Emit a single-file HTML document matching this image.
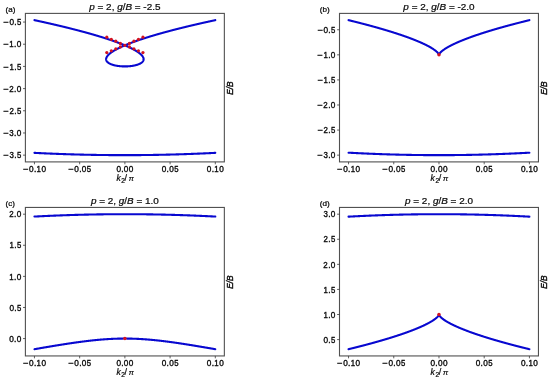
<!DOCTYPE html><html><head><meta charset="utf-8"><style>html,body{margin:0;padding:0;background:#fff;}svg{display:block;will-change:transform;}text{font-family:"Liberation Sans",sans-serif;fill:#0a0a0a;stroke:#0a0a0a;stroke-width:0.36px;}</style></head><body>
<svg width="550" height="379" viewBox="0 0 550 379">
<rect width="550" height="379" fill="#fff"/>
<path d="M34.45,20.15 L34.70,20.20 L34.95,20.26 L35.20,20.31 L35.44,20.36 L35.69,20.42 L35.94,20.47 L36.19,20.52 L36.44,20.58 L36.69,20.63 L36.93,20.68 L37.18,20.74 L37.43,20.79 L37.68,20.84 L37.92,20.90 L38.17,20.95 L38.41,21.00 L38.66,21.06 L38.91,21.11 L39.15,21.16 L39.40,21.22 L39.64,21.27 L39.89,21.32 L40.14,21.38 L40.39,21.43 L40.64,21.49 L40.89,21.54 L41.14,21.60 L41.39,21.65 L41.63,21.71 L41.88,21.76 L42.13,21.82 L42.38,21.87 L42.63,21.92 L42.87,21.98 L43.12,22.03 L43.37,22.09 L43.62,22.14 L43.86,22.20 L44.11,22.25 L44.35,22.31 L44.60,22.36 L44.84,22.42 L45.09,22.47 L45.33,22.53 L45.58,22.58 L45.83,22.64 L46.08,22.69 L46.33,22.75 L46.58,22.80 L46.83,22.86 L47.08,22.92 L47.32,22.97 L47.57,23.03 L47.82,23.08 L48.07,23.14 L48.31,23.19 L48.56,23.25 L48.81,23.31 L49.05,23.36 L49.30,23.42 L49.55,23.47 L49.79,23.53 L50.04,23.59 L50.28,23.64 L50.53,23.70 L50.77,23.75 L51.01,23.81 L51.26,23.87 L51.51,23.92 L51.76,23.98 L52.01,24.04 L52.26,24.09 L52.51,24.15 L52.75,24.21 L53.00,24.27 L53.25,24.32 L53.50,24.38 L53.74,24.44 L53.99,24.49 L54.23,24.55 L54.48,24.61 L54.72,24.66 L54.97,24.72 L55.21,24.78 L55.46,24.84 L55.70,24.89 L55.95,24.95 L56.20,25.01 L56.45,25.07 L56.70,25.13 L56.94,25.18 L57.19,25.24 L57.44,25.30 L57.69,25.36 L57.93,25.42 L58.18,25.47 L58.42,25.53 L58.67,25.59 L58.92,25.65 L59.16,25.71 L59.40,25.76 L59.65,25.82 L59.89,25.88 L60.14,25.94 L60.38,26.00 L60.63,26.06 L60.88,26.12 L61.13,26.18 L61.38,26.24 L61.62,26.29 L61.87,26.35 L62.12,26.41 L62.36,26.47 L62.61,26.53 L62.85,26.59 L63.10,26.65 L63.34,26.71 L63.58,26.77 L63.83,26.83 L64.07,26.89 L64.32,26.95 L64.57,27.01 L64.82,27.07 L65.06,27.13 L65.31,27.19 L65.56,27.25 L65.80,27.31 L66.05,27.37 L66.29,27.43 L66.54,27.49 L66.78,27.55 L67.03,27.61 L67.27,27.67 L67.51,27.73 L67.76,27.79 L68.00,27.85 L68.25,27.91 L68.50,27.97 L68.75,28.04 L68.99,28.10 L69.24,28.16 L69.48,28.22 L69.73,28.28 L69.97,28.34 L70.22,28.40 L70.46,28.47 L70.71,28.53 L70.95,28.59 L71.19,28.65 L71.44,28.71 L71.69,28.77 L71.93,28.84 L72.18,28.90 L72.42,28.96 L72.67,29.02 L72.91,29.09 L73.16,29.15 L73.40,29.21 L73.65,29.27 L73.89,29.33 L74.13,29.40 L74.37,29.46 L74.62,29.52 L74.87,29.59 L75.11,29.65 L75.36,29.71 L75.61,29.78 L75.85,29.84 L76.09,29.90 L76.34,29.96 L76.58,30.03 L76.82,30.09 L77.07,30.15 L77.31,30.22 L77.56,30.28 L77.80,30.35 L78.05,30.41 L78.29,30.47 L78.54,30.54 L78.78,30.60 L79.03,30.67 L79.27,30.73 L79.51,30.80 L79.75,30.86 L80.00,30.92 L80.24,30.99 L80.49,31.05 L80.73,31.12 L80.98,31.18 L81.22,31.25 L81.47,31.31 L81.71,31.38 L81.95,31.44 L82.19,31.51 L82.44,31.57 L82.68,31.64 L82.93,31.71 L83.17,31.77 L83.42,31.84 L83.66,31.91 L83.91,31.97 L84.15,32.04 L84.39,32.10 L84.63,32.17 L84.87,32.23 L85.12,32.30 L85.36,32.37 L85.61,32.44 L85.85,32.50 L86.10,32.57 L86.34,32.64 L86.58,32.70 L86.82,32.77 L87.06,32.84 L87.31,32.91 L87.55,32.97 L87.80,33.04 L88.04,33.11 L88.29,33.18 L88.53,33.24 L88.77,33.31 L89.01,33.38 L89.26,33.45 L89.50,33.52 L89.74,33.59 L89.99,33.66 L90.23,33.72 L90.47,33.79 L90.72,33.86 L90.96,33.93 L91.20,34.00 L91.45,34.07 L91.69,34.14 L91.93,34.21 L92.18,34.28 L92.42,34.35 L92.66,34.42 L92.90,34.49 L93.14,34.56 L93.39,34.63 L93.63,34.70 L93.87,34.77 L94.11,34.84 L94.36,34.91 L94.60,34.98 L94.84,35.05 L95.08,35.12 L95.33,35.19 L95.57,35.26 L95.81,35.34 L96.05,35.41 L96.29,35.48 L96.54,35.55 L96.78,35.62 L97.02,35.69 L97.26,35.77 L97.50,35.84 L97.74,35.91 L97.98,35.98 L98.23,36.05 L98.47,36.13 L98.71,36.20 L98.95,36.27 L99.19,36.35 L99.43,36.42 L99.67,36.49 L99.92,36.57 L100.16,36.64 L100.40,36.71 L100.64,36.79 L100.88,36.86 L101.12,36.94 L101.36,37.01 L101.60,37.08 L101.84,37.16 L102.08,37.23 L102.32,37.31 L102.56,37.38 L102.81,37.46 L103.05,37.53 L103.28,37.61 L103.53,37.69 L103.77,37.76 L104.01,37.84 L104.25,37.91 L104.49,37.99 L104.73,38.07 L104.97,38.14 L105.21,38.22 L105.45,38.30 L105.69,38.37 L105.93,38.45 L106.17,38.53 L106.41,38.61 L106.65,38.68 L106.89,38.76 L107.13,38.84 L107.37,38.92 L107.61,39.00 L107.85,39.08 L108.09,39.15 L108.33,39.23 L108.57,39.31 L108.80,39.39 L109.05,39.47 L109.28,39.55 L109.52,39.63 L109.76,39.71 L110.00,39.79 L110.24,39.87 L110.48,39.95 L110.72,40.03 L110.96,40.12 L111.20,40.20 L111.43,40.28 L111.67,40.36 L111.91,40.44 L112.15,40.52 L112.39,40.61 L112.62,40.69 L112.86,40.77 L113.10,40.85 L113.34,40.94 L113.57,41.02 L113.81,41.10 L114.05,41.19 L114.29,41.27 L114.52,41.36 L114.76,41.44 L115.00,41.53 L115.24,41.61 L115.47,41.70 L115.71,41.78 L115.95,41.87 L116.19,41.95 L116.42,42.04 L116.66,42.13 L116.90,42.21 L117.13,42.30 L117.37,42.39 L117.60,42.47 L117.84,42.56 L118.08,42.65 L118.31,42.74 L118.55,42.83 L118.78,42.92 L119.02,43.00 L119.25,43.09 L119.49,43.18 L119.72,43.27 L119.96,43.36 L120.19,43.45 L120.43,43.54 L120.66,43.64 L120.90,43.73 L121.13,43.82 L121.36,43.91 L121.60,44.00 L121.83,44.10 L122.06,44.19 L122.30,44.28 L122.53,44.38 L122.76,44.47 L123.00,44.56 L123.23,44.66 L123.46,44.75 L123.69,44.85 L123.92,44.94 L124.16,45.04 L124.39,45.14 L124.62,45.23 L124.85,45.33 L125.08,45.43 L125.32,45.53 L125.55,45.63 L125.78,45.73 L126.01,45.82 L126.24,45.92 L126.47,46.02 L126.70,46.13 L126.93,46.23 L127.16,46.33 L127.39,46.43 L127.62,46.53 L127.85,46.64 L128.08,46.74 L128.31,46.84 L128.54,46.95 L128.76,47.05 L128.99,47.16 L129.22,47.26 L129.45,47.37 L129.67,47.48 L129.90,47.59 L130.13,47.70 L130.35,47.80 L130.58,47.91 L130.80,48.02 L131.03,48.13 L131.25,48.24 L131.48,48.36 L131.70,48.47 L131.92,48.58 L132.15,48.70 L132.37,48.81 L132.60,48.93 L132.82,49.04 L133.04,49.16 L133.26,49.28 L133.48,49.40 L133.70,49.52 L133.92,49.64 L134.14,49.76 L134.36,49.88 L134.58,50.00 L134.80,50.13 L135.02,50.25 L135.24,50.38 L135.45,50.50 L135.67,50.63 L135.88,50.76 L136.10,50.89 L136.31,51.02 L136.52,51.15 L136.74,51.29 L136.95,51.42 L137.16,51.56 L137.37,51.69 L137.58,51.83 L137.79,51.97 L137.99,52.11 L138.20,52.26 L138.40,52.40 L138.61,52.55 L138.81,52.69 L139.01,52.84 L139.21,52.99 L139.41,53.15 L139.61,53.30 L139.80,53.46 L140.00,53.62 L140.19,53.78 L140.38,53.94 L140.57,54.11 L140.75,54.27 L140.93,54.45 L141.12,54.62 L141.29,54.79 L141.47,54.97 L141.64,55.16 L141.81,55.34 L141.97,55.53 L142.13,55.72 L142.29,55.92 L142.44,56.12 L142.59,56.32 L142.72,56.53 L142.86,56.74 L142.98,56.96 L143.10,57.18 L143.21,57.41 L143.31,57.64 L143.39,57.87 L143.47,58.11 L143.53,58.35 L143.58,58.60 L143.61,58.85 L143.62,59.10 L143.62,59.35 L143.60,59.60 L143.56,59.85 L143.51,60.09 L143.43,60.33 L143.34,60.56 L143.24,60.79 L143.12,61.01 L142.99,61.22 L142.84,61.43 L142.69,61.62 L142.52,61.81 L142.35,61.99 L142.17,62.17 L141.98,62.34 L141.79,62.50 L141.60,62.65 L141.39,62.80 L141.19,62.94 L140.98,63.08 L140.77,63.21 L140.55,63.34 L140.33,63.46 L140.11,63.58 L139.89,63.69 L139.66,63.80 L139.44,63.91 L139.21,64.01 L138.98,64.11 L138.75,64.21 L138.52,64.30 L138.28,64.39 L138.05,64.48 L137.81,64.56 L137.57,64.64 L137.33,64.72 L137.10,64.80 L136.86,64.87 L136.62,64.94 L136.38,65.01 L136.13,65.08 L135.89,65.14 L135.65,65.20 L135.41,65.26 L135.16,65.32 L134.92,65.38 L134.67,65.43 L134.43,65.49 L134.18,65.54 L133.94,65.59 L133.69,65.63 L133.45,65.68 L133.20,65.73 L132.95,65.77 L132.71,65.81 L132.46,65.85 L132.21,65.89 L131.96,65.92 L131.72,65.96 L131.47,65.99 L131.22,66.03 L130.97,66.06 L130.72,66.09 L130.47,66.11 L130.22,66.14 L129.97,66.17 L129.73,66.19 L129.48,66.21 L129.23,66.24 L128.98,66.26 L128.73,66.27 L128.48,66.29 L128.23,66.31 L127.98,66.32 L127.73,66.34 L127.48,66.35 L127.23,66.36 L126.98,66.37 L126.73,66.38 L126.48,66.39 L126.22,66.40 L125.97,66.40 L125.72,66.41 L125.47,66.41 L125.22,66.41 L124.97,66.42 L124.72,66.42 L124.47,66.41 L124.22,66.41 L123.97,66.41 L123.72,66.40 L123.47,66.40 L123.22,66.39 L122.97,66.38 L122.72,66.37 L122.46,66.36 L122.21,66.35 L121.96,66.34 L121.71,66.32 L121.46,66.31 L121.22,66.29 L120.97,66.27 L120.72,66.25 L120.47,66.23 L120.22,66.21 L119.97,66.18 L119.72,66.16 L119.47,66.13 L119.22,66.11 L118.97,66.08 L118.72,66.05 L118.47,66.02 L118.22,65.98 L117.98,65.95 L117.73,65.92 L117.48,65.88 L117.23,65.84 L116.98,65.80 L116.74,65.76 L116.49,65.71 L116.24,65.67 L116.00,65.62 L115.75,65.58 L115.51,65.53 L115.26,65.47 L115.02,65.42 L114.77,65.37 L114.53,65.31 L114.28,65.25 L114.04,65.19 L113.80,65.13 L113.56,65.06 L113.31,64.99 L113.07,64.92 L112.83,64.85 L112.59,64.78 L112.36,64.70 L112.12,64.62 L111.88,64.54 L111.65,64.46 L111.41,64.37 L111.18,64.28 L110.95,64.18 L110.71,64.09 L110.49,63.99 L110.26,63.88 L110.03,63.78 L109.81,63.67 L109.58,63.55 L109.36,63.43 L109.15,63.31 L108.93,63.18 L108.72,63.05 L108.51,62.91 L108.31,62.76 L108.11,62.61 L107.91,62.46 L107.72,62.29 L107.53,62.13 L107.36,61.95 L107.19,61.77 L107.02,61.58 L106.87,61.38 L106.73,61.17 L106.60,60.96 L106.49,60.73 L106.38,60.51 L106.30,60.27 L106.23,60.03 L106.18,59.79 L106.14,59.54 L106.13,59.29 L106.13,59.04 L106.15,58.79 L106.18,58.54 L106.23,58.29 L106.30,58.05 L106.38,57.81 L106.47,57.58 L106.57,57.35 L106.68,57.13 L106.80,56.91 L106.92,56.69 L107.06,56.48 L107.20,56.27 L107.35,56.07 L107.50,55.87 L107.66,55.68 L107.82,55.48 L107.98,55.30 L108.15,55.11 L108.32,54.93 L108.50,54.75 L108.68,54.58 L108.86,54.40 L109.04,54.23 L109.23,54.07 L109.42,53.90 L109.61,53.74 L109.80,53.58 L109.99,53.42 L110.19,53.26 L110.39,53.11 L110.59,52.96 L110.79,52.81 L110.99,52.66 L111.19,52.51 L111.40,52.36 L111.60,52.22 L111.81,52.08 L112.01,51.94 L112.22,51.80 L112.43,51.66 L112.64,51.52 L112.85,51.39 L113.07,51.25 L113.28,51.12 L113.49,50.99 L113.71,50.86 L113.92,50.73 L114.14,50.60 L114.35,50.47 L114.57,50.34 L114.79,50.22 L115.01,50.09 L115.22,49.97 L115.44,49.85 L115.66,49.73 L115.88,49.61 L116.10,49.49 L116.32,49.37 L116.55,49.25 L116.77,49.13 L116.99,49.01 L117.21,48.90 L117.44,48.78 L117.66,48.67 L117.88,48.55 L118.11,48.44 L118.33,48.33 L118.55,48.22 L118.78,48.10 L119.00,47.99 L119.23,47.88 L119.46,47.77 L119.68,47.67 L119.91,47.56 L120.13,47.45 L120.36,47.34 L120.59,47.24 L120.82,47.13 L121.05,47.03 L121.28,46.92 L121.50,46.82 L121.73,46.71 L121.96,46.61 L122.19,46.51 L122.42,46.40 L122.65,46.30 L122.88,46.20 L123.11,46.10 L123.34,46.00 L123.57,45.90 L123.80,45.80 L124.03,45.70 L124.26,45.60 L124.49,45.50 L124.73,45.40 L124.96,45.31 L125.19,45.21 L125.42,45.11 L125.65,45.02 L125.89,44.92 L126.12,44.82 L126.35,44.73 L126.58,44.63 L126.82,44.54 L127.05,44.44 L127.28,44.35 L127.52,44.26 L127.75,44.16 L127.98,44.07 L128.22,43.98 L128.45,43.89 L128.69,43.79 L128.92,43.70 L129.15,43.61 L129.39,43.52 L129.62,43.43 L129.86,43.34 L130.09,43.25 L130.33,43.16 L130.56,43.07 L130.80,42.98 L131.03,42.89 L131.27,42.80 L131.51,42.71 L131.74,42.63 L131.98,42.54 L132.21,42.45 L132.45,42.36 L132.69,42.28 L132.92,42.19 L133.16,42.10 L133.39,42.02 L133.63,41.93 L133.86,41.84 L134.10,41.76 L134.34,41.67 L134.57,41.59 L134.81,41.50 L135.05,41.42 L135.28,41.34 L135.52,41.25 L135.76,41.17 L135.99,41.08 L136.23,41.00 L136.47,40.92 L136.71,40.83 L136.95,40.75 L137.19,40.67 L137.42,40.59 L137.66,40.50 L137.90,40.42 L138.14,40.34 L138.37,40.26 L138.61,40.18 L138.85,40.10 L139.09,40.02 L139.33,39.93 L139.57,39.85 L139.81,39.77 L140.04,39.69 L140.28,39.61 L140.52,39.53 L140.76,39.45 L141.00,39.37 L141.24,39.30 L141.47,39.22 L141.71,39.14 L141.96,39.06 L142.19,38.98 L142.43,38.90 L142.67,38.82 L142.91,38.74 L143.15,38.67 L143.39,38.59 L143.63,38.51 L143.87,38.43 L144.11,38.36 L144.35,38.28 L144.59,38.20 L144.83,38.13 L145.07,38.05 L145.31,37.97 L145.55,37.90 L145.79,37.82 L146.03,37.75 L146.27,37.67 L146.51,37.59 L146.75,37.52 L146.99,37.44 L147.23,37.37 L147.48,37.29 L147.72,37.22 L147.96,37.14 L148.20,37.07 L148.44,36.99 L148.68,36.92 L148.92,36.85 L149.16,36.77 L149.40,36.70 L149.64,36.62 L149.88,36.55 L150.13,36.48 L150.37,36.40 L150.61,36.33 L150.85,36.26 L151.09,36.19 L151.33,36.11 L151.57,36.04 L151.82,35.97 L152.06,35.89 L152.30,35.82 L152.54,35.75 L152.78,35.68 L153.02,35.61 L153.27,35.53 L153.51,35.46 L153.75,35.39 L153.99,35.32 L154.23,35.25 L154.48,35.18 L154.72,35.11 L154.96,35.03 L155.20,34.96 L155.44,34.89 L155.68,34.82 L155.93,34.75 L156.17,34.68 L156.41,34.61 L156.66,34.54 L156.90,34.47 L157.14,34.40 L157.38,34.33 L157.63,34.26 L157.87,34.19 L158.11,34.12 L158.35,34.05 L158.60,33.98 L158.84,33.92 L159.08,33.85 L159.32,33.78 L159.57,33.71 L159.81,33.64 L160.05,33.57 L160.30,33.50 L160.54,33.44 L160.78,33.37 L161.02,33.30 L161.27,33.23 L161.51,33.16 L161.75,33.10 L161.99,33.03 L162.24,32.96 L162.48,32.89 L162.73,32.83 L162.97,32.76 L163.21,32.69 L163.45,32.62 L163.70,32.56 L163.94,32.49 L164.19,32.42 L164.43,32.36 L164.67,32.29 L164.92,32.22 L165.16,32.16 L165.40,32.09 L165.65,32.03 L165.89,31.96 L166.13,31.89 L166.38,31.83 L166.62,31.76 L166.87,31.69 L167.11,31.63 L167.36,31.56 L167.60,31.50 L167.84,31.43 L168.09,31.37 L168.33,31.30 L168.57,31.24 L168.82,31.17 L169.06,31.11 L169.31,31.04 L169.55,30.98 L169.80,30.91 L170.04,30.85 L170.28,30.78 L170.53,30.72 L170.77,30.65 L171.01,30.59 L171.26,30.53 L171.50,30.46 L171.75,30.40 L171.99,30.33 L172.24,30.27 L172.49,30.20 L172.73,30.14 L172.97,30.08 L173.22,30.02 L173.46,29.95 L173.70,29.89 L173.95,29.83 L174.19,29.76 L174.44,29.70 L174.68,29.64 L174.93,29.57 L175.18,29.51 L175.42,29.45 L175.67,29.38 L175.91,29.32 L176.15,29.26 L176.40,29.20 L176.64,29.14 L176.88,29.07 L177.13,29.01 L177.37,28.95 L177.62,28.89 L177.87,28.82 L178.11,28.76 L178.36,28.70 L178.61,28.64 L178.85,28.57 L179.09,28.51 L179.34,28.45 L179.58,28.39 L179.83,28.33 L180.07,28.27 L180.32,28.21 L180.56,28.15 L180.81,28.09 L181.05,28.02 L181.30,27.96 L181.55,27.90 L181.80,27.84 L182.04,27.78 L182.29,27.72 L182.53,27.66 L182.77,27.60 L183.02,27.54 L183.26,27.48 L183.51,27.42 L183.75,27.36 L184.00,27.30 L184.25,27.24 L184.49,27.18 L184.74,27.12 L184.99,27.05 L185.23,26.99 L185.48,26.93 L185.73,26.87 L185.97,26.81 L186.22,26.76 L186.46,26.70 L186.71,26.64 L186.95,26.58 L187.20,26.52 L187.44,26.46 L187.69,26.40 L187.93,26.34 L188.18,26.28 L188.43,26.22 L188.67,26.16 L188.92,26.10 L189.17,26.04 L189.42,25.99 L189.67,25.93 L189.91,25.87 L190.16,25.81 L190.40,25.75 L190.64,25.69 L190.89,25.64 L191.13,25.58 L191.38,25.52 L191.63,25.46 L191.87,25.40 L192.12,25.35 L192.37,25.29 L192.61,25.23 L192.86,25.17 L193.11,25.11 L193.36,25.05 L193.61,25.00 L193.85,24.94 L194.10,24.88 L194.35,24.82 L194.59,24.77 L194.84,24.71 L195.08,24.65 L195.33,24.59 L195.57,24.54 L195.82,24.48 L196.06,24.42 L196.31,24.37 L196.56,24.31 L196.80,24.25 L197.05,24.20 L197.30,24.14 L197.55,24.08 L197.80,24.02 L198.04,23.97 L198.29,23.91 L198.54,23.85 L198.79,23.80 L199.04,23.74 L199.28,23.68 L199.52,23.63 L199.77,23.57 L200.01,23.52 L200.26,23.46 L200.51,23.41 L200.75,23.35 L201.00,23.29 L201.25,23.24 L201.49,23.18 L201.74,23.13 L201.99,23.07 L202.24,23.01 L202.48,22.96 L202.73,22.90 L202.98,22.85 L203.23,22.79 L203.48,22.73 L203.73,22.68 L203.98,22.62 L204.22,22.57 L204.47,22.51 L204.71,22.46 L204.96,22.40 L205.20,22.35 L205.45,22.30 L205.69,22.24 L205.94,22.19 L206.19,22.13 L206.43,22.08 L206.68,22.02 L206.93,21.97 L207.18,21.91 L207.42,21.86 L207.67,21.80 L207.92,21.75 L208.17,21.69 L208.42,21.64 L208.67,21.59 L208.92,21.53 L209.17,21.48 L209.42,21.42 L209.67,21.37 L209.92,21.31 L210.16,21.26 L210.41,21.21 L210.65,21.15 L210.90,21.10 L211.14,21.05 L211.39,20.99 L211.63,20.94 L211.88,20.89 L212.13,20.83 L212.37,20.78 L212.62,20.73 L212.87,20.67 L213.12,20.62 L213.36,20.57 L213.61,20.51 L213.86,20.46 L214.11,20.41 L214.36,20.35 L214.61,20.30 L214.86,20.25 L215.11,20.19 L215.30,20.15" fill="none" stroke="#0808d0" stroke-width="2.1" stroke-linejoin="round" stroke-linecap="round"/>
<path d="M34.45,152.86 L34.70,152.87 L34.95,152.88 L35.21,152.89 L35.46,152.91 L35.71,152.92 L35.96,152.93 L36.21,152.94 L36.46,152.96 L36.71,152.97 L36.96,152.98 L37.21,152.99 L37.46,153.01 L37.72,153.02 L37.97,153.03 L38.22,153.04 L38.47,153.05 L38.72,153.07 L38.97,153.08 L39.22,153.09 L39.47,153.10 L39.73,153.12 L39.98,153.13 L40.23,153.14 L40.48,153.15 L40.73,153.16 L40.98,153.17 L41.23,153.19 L41.49,153.20 L41.74,153.21 L41.99,153.22 L42.24,153.23 L42.49,153.24 L42.74,153.26 L42.99,153.27 L43.25,153.28 L43.50,153.29 L43.75,153.30 L44.00,153.31 L44.25,153.33 L44.50,153.34 L44.76,153.35 L45.01,153.36 L45.26,153.37 L45.51,153.38 L45.76,153.39 L46.01,153.40 L46.27,153.42 L46.52,153.43 L46.77,153.44 L47.02,153.45 L47.27,153.46 L47.52,153.47 L47.78,153.48 L48.03,153.49 L48.28,153.50 L48.53,153.51 L48.78,153.52 L49.04,153.54 L49.29,153.55 L49.54,153.56 L49.79,153.57 L50.04,153.58 L50.30,153.59 L50.55,153.60 L50.80,153.61 L51.05,153.62 L51.30,153.63 L51.56,153.64 L51.81,153.65 L52.06,153.66 L52.31,153.67 L52.56,153.68 L52.82,153.69 L53.07,153.70 L53.32,153.71 L53.57,153.72 L53.83,153.73 L54.08,153.74 L54.33,153.75 L54.58,153.76 L54.83,153.77 L55.09,153.78 L55.34,153.79 L55.59,153.80 L55.84,153.81 L56.10,153.82 L56.35,153.83 L56.60,153.84 L56.85,153.85 L57.11,153.86 L57.36,153.87 L57.61,153.88 L57.86,153.89 L58.12,153.90 L58.37,153.91 L58.62,153.92 L58.87,153.93 L59.13,153.94 L59.38,153.95 L59.63,153.95 L59.88,153.96 L60.14,153.97 L60.39,153.98 L60.64,153.99 L60.89,154.00 L61.15,154.01 L61.40,154.02 L61.65,154.03 L61.90,154.04 L62.16,154.05 L62.41,154.05 L62.66,154.06 L62.92,154.07 L63.17,154.08 L63.42,154.09 L63.67,154.10 L63.93,154.11 L64.18,154.12 L64.43,154.12 L64.68,154.13 L64.94,154.14 L65.19,154.15 L65.44,154.16 L65.70,154.17 L65.95,154.17 L66.20,154.18 L66.45,154.19 L66.71,154.20 L66.96,154.21 L67.21,154.22 L67.47,154.22 L67.72,154.23 L67.97,154.24 L68.23,154.25 L68.48,154.26 L68.73,154.26 L68.98,154.27 L69.24,154.28 L69.49,154.29 L69.74,154.30 L70.00,154.30 L70.25,154.31 L70.50,154.32 L70.76,154.33 L71.01,154.34 L71.26,154.34 L71.52,154.35 L71.77,154.36 L72.02,154.37 L72.28,154.37 L72.53,154.38 L72.78,154.39 L73.03,154.40 L73.29,154.40 L73.54,154.41 L73.79,154.42 L74.05,154.42 L74.30,154.43 L74.55,154.44 L74.81,154.45 L75.06,154.45 L75.31,154.46 L75.57,154.47 L75.82,154.47 L76.07,154.48 L76.33,154.49 L76.58,154.49 L76.83,154.50 L77.09,154.51 L77.34,154.52 L77.59,154.52 L77.85,154.53 L78.10,154.54 L78.35,154.54 L78.61,154.55 L78.86,154.56 L79.12,154.56 L79.37,154.57 L79.62,154.57 L79.88,154.58 L80.13,154.59 L80.38,154.59 L80.64,154.60 L80.89,154.61 L81.14,154.61 L81.40,154.62 L81.65,154.63 L81.90,154.63 L82.16,154.64 L82.41,154.64 L82.66,154.65 L82.92,154.66 L83.17,154.66 L83.43,154.67 L83.68,154.67 L83.93,154.68 L84.19,154.68 L84.44,154.69 L84.69,154.70 L84.95,154.70 L85.20,154.71 L85.45,154.71 L85.71,154.72 L85.96,154.72 L86.22,154.73 L86.47,154.74 L86.72,154.74 L86.98,154.75 L87.23,154.75 L87.48,154.76 L87.74,154.76 L87.99,154.77 L88.25,154.77 L88.50,154.78 L88.75,154.78 L89.01,154.79 L89.26,154.79 L89.52,154.80 L89.77,154.80 L90.02,154.81 L90.28,154.81 L90.53,154.82 L90.78,154.82 L91.04,154.83 L91.29,154.83 L91.55,154.84 L91.80,154.84 L92.05,154.85 L92.31,154.85 L92.56,154.86 L92.82,154.86 L93.07,154.87 L93.32,154.87 L93.58,154.87 L93.83,154.88 L94.09,154.88 L94.34,154.89 L94.59,154.89 L94.85,154.90 L95.10,154.90 L95.35,154.91 L95.61,154.91 L95.86,154.91 L96.12,154.92 L96.37,154.92 L96.62,154.93 L96.88,154.93 L97.13,154.93 L97.39,154.94 L97.64,154.94 L97.90,154.95 L98.15,154.95 L98.40,154.95 L98.66,154.96 L98.91,154.96 L99.17,154.96 L99.42,154.97 L99.67,154.97 L99.93,154.98 L100.18,154.98 L100.44,154.98 L100.69,154.99 L100.94,154.99 L101.20,154.99 L101.45,155.00 L101.71,155.00 L101.96,155.00 L102.21,155.01 L102.47,155.01 L102.72,155.01 L102.98,155.02 L103.23,155.02 L103.49,155.02 L103.74,155.02 L103.99,155.03 L104.25,155.03 L104.50,155.03 L104.76,155.04 L105.01,155.04 L105.26,155.04 L105.52,155.04 L105.77,155.05 L106.03,155.05 L106.28,155.05 L106.54,155.06 L106.79,155.06 L107.04,155.06 L107.30,155.06 L107.55,155.07 L107.81,155.07 L108.06,155.07 L108.31,155.07 L108.57,155.08 L108.82,155.08 L109.08,155.08 L109.33,155.08 L109.59,155.08 L109.84,155.09 L110.09,155.09 L110.35,155.09 L110.60,155.09 L110.86,155.09 L111.11,155.10 L111.37,155.10 L111.62,155.10 L111.87,155.10 L112.13,155.10 L112.38,155.11 L112.64,155.11 L112.89,155.11 L113.15,155.11 L113.40,155.11 L113.65,155.11 L113.91,155.12 L114.16,155.12 L114.42,155.12 L114.67,155.12 L114.93,155.12 L115.18,155.12 L115.43,155.12 L115.69,155.13 L115.94,155.13 L116.20,155.13 L116.45,155.13 L116.71,155.13 L116.96,155.13 L117.21,155.13 L117.47,155.13 L117.72,155.14 L117.98,155.14 L118.23,155.14 L118.49,155.14 L118.74,155.14 L118.99,155.14 L119.25,155.14 L119.50,155.14 L119.76,155.14 L120.01,155.14 L120.27,155.14 L120.52,155.14 L120.78,155.15 L121.03,155.15 L121.28,155.15 L121.54,155.15 L121.79,155.15 L122.05,155.15 L122.30,155.15 L122.56,155.15 L122.81,155.15 L123.06,155.15 L123.32,155.15 L123.57,155.15 L123.83,155.15 L124.08,155.15 L124.34,155.15 L124.59,155.15 L124.84,155.15 L125.10,155.15 L125.35,155.15 L125.61,155.15 L125.86,155.15 L126.12,155.15 L126.37,155.15 L126.62,155.15 L126.88,155.15 L127.13,155.15 L127.39,155.15 L127.64,155.15 L127.90,155.15 L128.15,155.15 L128.41,155.15 L128.66,155.15 L128.91,155.15 L129.17,155.14 L129.42,155.14 L129.68,155.14 L129.93,155.14 L130.19,155.14 L130.44,155.14 L130.69,155.14 L130.95,155.14 L131.20,155.14 L131.46,155.14 L131.71,155.14 L131.97,155.14 L132.22,155.13 L132.47,155.13 L132.73,155.13 L132.98,155.13 L133.24,155.13 L133.49,155.13 L133.75,155.13 L134.00,155.13 L134.25,155.13 L134.51,155.12 L134.76,155.12 L135.02,155.12 L135.27,155.12 L135.53,155.12 L135.78,155.12 L136.03,155.12 L136.29,155.11 L136.54,155.11 L136.80,155.11 L137.05,155.11 L137.31,155.11 L137.56,155.10 L137.81,155.10 L138.07,155.10 L138.32,155.10 L138.58,155.10 L138.83,155.10 L139.09,155.09 L139.34,155.09 L139.59,155.09 L139.85,155.09 L140.10,155.08 L140.36,155.08 L140.61,155.08 L140.87,155.08 L141.12,155.08 L141.37,155.07 L141.63,155.07 L141.88,155.07 L142.14,155.07 L142.39,155.06 L142.65,155.06 L142.90,155.06 L143.15,155.06 L143.41,155.05 L143.66,155.05 L143.92,155.05 L144.17,155.05 L144.42,155.04 L144.68,155.04 L144.93,155.04 L145.19,155.03 L145.44,155.03 L145.70,155.03 L145.95,155.03 L146.20,155.02 L146.46,155.02 L146.71,155.02 L146.97,155.01 L147.22,155.01 L147.47,155.01 L147.73,155.00 L147.98,155.00 L148.24,155.00 L148.49,154.99 L148.75,154.99 L149.00,154.99 L149.25,154.98 L149.51,154.98 L149.76,154.98 L150.02,154.97 L150.27,154.97 L150.52,154.97 L150.78,154.96 L151.03,154.96 L151.29,154.95 L151.54,154.95 L151.79,154.95 L152.05,154.94 L152.30,154.94 L152.56,154.93 L152.81,154.93 L153.06,154.93 L153.32,154.92 L153.57,154.92 L153.83,154.91 L154.08,154.91 L154.33,154.91 L154.59,154.90 L154.84,154.90 L155.10,154.89 L155.35,154.89 L155.60,154.88 L155.86,154.88 L156.11,154.88 L156.37,154.87 L156.62,154.87 L156.87,154.86 L157.13,154.86 L157.38,154.85 L157.64,154.85 L157.89,154.84 L158.14,154.84 L158.40,154.83 L158.65,154.83 L158.90,154.82 L159.16,154.82 L159.41,154.81 L159.67,154.81 L159.92,154.81 L160.17,154.80 L160.43,154.79 L160.68,154.79 L160.94,154.78 L161.19,154.78 L161.44,154.77 L161.70,154.77 L161.95,154.76 L162.20,154.76 L162.46,154.75 L162.71,154.75 L162.97,154.74 L163.22,154.74 L163.47,154.73 L163.73,154.73 L163.98,154.72 L164.23,154.71 L164.49,154.71 L164.74,154.70 L165.00,154.70 L165.25,154.69 L165.50,154.69 L165.76,154.68 L166.01,154.67 L166.26,154.67 L166.52,154.66 L166.77,154.66 L167.02,154.65 L167.28,154.64 L167.53,154.64 L167.79,154.63 L168.04,154.63 L168.29,154.62 L168.55,154.61 L168.80,154.61 L169.05,154.60 L169.31,154.60 L169.56,154.59 L169.81,154.58 L170.07,154.58 L170.32,154.57 L170.57,154.56 L170.83,154.56 L171.08,154.55 L171.33,154.54 L171.59,154.54 L171.84,154.53 L172.09,154.52 L172.35,154.52 L172.60,154.51 L172.85,154.50 L173.11,154.50 L173.36,154.49 L173.61,154.48 L173.87,154.48 L174.12,154.47 L174.37,154.46 L174.63,154.45 L174.88,154.45 L175.13,154.44 L175.39,154.43 L175.64,154.43 L175.89,154.42 L176.15,154.41 L176.40,154.40 L176.65,154.40 L176.91,154.39 L177.16,154.38 L177.41,154.37 L177.67,154.37 L177.92,154.36 L178.17,154.35 L178.43,154.34 L178.68,154.34 L178.93,154.33 L179.19,154.32 L179.44,154.31 L179.69,154.31 L179.95,154.30 L180.20,154.29 L180.45,154.28 L180.70,154.27 L180.96,154.27 L181.21,154.26 L181.46,154.25 L181.72,154.24 L181.97,154.23 L182.22,154.23 L182.48,154.22 L182.73,154.21 L182.98,154.20 L183.23,154.19 L183.49,154.19 L183.74,154.18 L183.99,154.17 L184.25,154.16 L184.50,154.15 L184.75,154.14 L185.00,154.13 L185.26,154.13 L185.51,154.12 L185.76,154.11 L186.02,154.10 L186.27,154.09 L186.52,154.08 L186.77,154.07 L187.03,154.07 L187.28,154.06 L187.53,154.05 L187.79,154.04 L188.04,154.03 L188.29,154.02 L188.54,154.01 L188.80,154.00 L189.05,153.99 L189.30,153.98 L189.55,153.98 L189.81,153.97 L190.06,153.96 L190.31,153.95 L190.56,153.94 L190.82,153.93 L191.07,153.92 L191.32,153.91 L191.57,153.90 L191.83,153.89 L192.08,153.88 L192.33,153.87 L192.58,153.86 L192.84,153.85 L193.09,153.84 L193.34,153.83 L193.59,153.82 L193.85,153.81 L194.10,153.80 L194.35,153.79 L194.60,153.78 L194.86,153.78 L195.11,153.77 L195.36,153.76 L195.61,153.75 L195.86,153.74 L196.12,153.73 L196.37,153.72 L196.62,153.70 L196.87,153.69 L197.13,153.68 L197.38,153.67 L197.63,153.66 L197.88,153.65 L198.13,153.64 L198.39,153.63 L198.64,153.62 L198.89,153.61 L199.14,153.60 L199.39,153.59 L199.65,153.58 L199.90,153.57 L200.15,153.56 L200.40,153.55 L200.65,153.54 L200.91,153.53 L201.16,153.52 L201.41,153.51 L201.66,153.49 L201.91,153.48 L202.17,153.47 L202.42,153.46 L202.67,153.45 L202.92,153.44 L203.17,153.43 L203.42,153.42 L203.68,153.41 L203.93,153.40 L204.18,153.38 L204.43,153.37 L204.68,153.36 L204.93,153.35 L205.19,153.34 L205.44,153.33 L205.69,153.32 L205.94,153.31 L206.19,153.29 L206.44,153.28 L206.70,153.27 L206.95,153.26 L207.20,153.25 L207.45,153.24 L207.70,153.22 L207.95,153.21 L208.20,153.20 L208.46,153.19 L208.71,153.18 L208.96,153.17 L209.21,153.15 L209.46,153.14 L209.71,153.13 L209.96,153.12 L210.22,153.11 L210.47,153.09 L210.72,153.08 L210.97,153.07 L211.22,153.06 L211.47,153.05 L211.72,153.03 L211.97,153.02 L212.23,153.01 L212.48,153.00 L212.73,152.98 L212.98,152.97 L213.23,152.96 L213.48,152.95 L213.73,152.93 L213.98,152.92 L214.23,152.91 L214.48,152.90 L214.74,152.88 L214.99,152.87 L215.24,152.86 L215.30,152.86" fill="none" stroke="#0808d0" stroke-width="2.1" stroke-linejoin="round" stroke-linecap="round"/>
<circle cx="124.88" cy="45.34" r="1.6" fill="#d4121f"/>
<circle cx="120.35" cy="43.45" r="1.6" fill="#d4121f"/>
<circle cx="129.40" cy="43.45" r="1.6" fill="#d4121f"/>
<circle cx="120.35" cy="46.95" r="1.6" fill="#d4121f"/>
<circle cx="129.40" cy="46.95" r="1.6" fill="#d4121f"/>
<circle cx="115.83" cy="41.20" r="1.6" fill="#d4121f"/>
<circle cx="133.92" cy="41.20" r="1.6" fill="#d4121f"/>
<circle cx="115.83" cy="48.85" r="1.6" fill="#d4121f"/>
<circle cx="133.92" cy="48.85" r="1.6" fill="#d4121f"/>
<circle cx="111.31" cy="39.35" r="1.6" fill="#d4121f"/>
<circle cx="138.44" cy="39.35" r="1.6" fill="#d4121f"/>
<circle cx="111.31" cy="50.80" r="1.6" fill="#d4121f"/>
<circle cx="138.44" cy="50.80" r="1.6" fill="#d4121f"/>
<circle cx="106.79" cy="37.20" r="1.6" fill="#d4121f"/>
<circle cx="142.96" cy="37.20" r="1.6" fill="#d4121f"/>
<circle cx="106.79" cy="52.60" r="1.6" fill="#d4121f"/>
<circle cx="142.96" cy="52.60" r="1.6" fill="#d4121f"/>
<rect x="25.40" y="13.40" width="198.95" height="148.5" fill="none" stroke="#505050" stroke-width="1.1"/>
<line x1="34.44" y1="161.90" x2="34.44" y2="164.30" stroke="#3a3a3a" stroke-width="0.8"/>
<text transform="translate(22.71,172.00) scale(1.075,1)" font-size="8.6">−</text><text transform="translate(29.07,172.00) scale(0.956,1)" font-size="8.6">0</text><text transform="translate(33.90,172.00) scale(0.981,1)" font-size="8.6">.</text><text transform="translate(36.57,172.00) scale(0.913,1)" font-size="8.6">1</text><text transform="translate(41.47,172.00) scale(0.956,1)" font-size="8.6">0</text>
<line x1="79.66" y1="161.90" x2="79.66" y2="164.30" stroke="#3a3a3a" stroke-width="0.8"/>
<text transform="translate(68.01,172.00) scale(1.075,1)" font-size="8.6">−</text><text transform="translate(74.36,172.00) scale(0.956,1)" font-size="8.6">0</text><text transform="translate(79.20,172.00) scale(0.981,1)" font-size="8.6">.</text><text transform="translate(81.81,172.00) scale(0.956,1)" font-size="8.6">0</text><text transform="translate(86.87,172.00) scale(0.902,1)" font-size="8.6">5</text>
<line x1="124.88" y1="161.90" x2="124.88" y2="164.30" stroke="#3a3a3a" stroke-width="0.8"/>
<text transform="translate(116.39,172.00) scale(0.956,1)" font-size="8.6">0</text><text transform="translate(121.22,172.00) scale(0.981,1)" font-size="8.6">.</text><text transform="translate(123.83,172.00) scale(0.956,1)" font-size="8.6">0</text><text transform="translate(128.79,172.00) scale(0.956,1)" font-size="8.6">0</text>
<line x1="170.09" y1="161.90" x2="170.09" y2="164.30" stroke="#3a3a3a" stroke-width="0.8"/>
<text transform="translate(161.68,172.00) scale(0.956,1)" font-size="8.6">0</text><text transform="translate(166.52,172.00) scale(0.981,1)" font-size="8.6">.</text><text transform="translate(169.13,172.00) scale(0.956,1)" font-size="8.6">0</text><text transform="translate(174.19,172.00) scale(0.902,1)" font-size="8.6">5</text>
<line x1="215.31" y1="161.90" x2="215.31" y2="164.30" stroke="#3a3a3a" stroke-width="0.8"/>
<text transform="translate(206.82,172.00) scale(0.956,1)" font-size="8.6">0</text><text transform="translate(211.65,172.00) scale(0.981,1)" font-size="8.6">.</text><text transform="translate(214.33,172.00) scale(0.913,1)" font-size="8.6">1</text><text transform="translate(219.22,172.00) scale(0.956,1)" font-size="8.6">0</text>
<line x1="23.00" y1="155.15" x2="25.40" y2="155.15" stroke="#3a3a3a" stroke-width="0.8"/>
<text transform="translate(3.06,158.35) scale(1.075,1)" font-size="8.6">−</text><text transform="translate(9.52,158.35) scale(0.918,1)" font-size="8.6">3</text><text transform="translate(14.25,158.35) scale(0.981,1)" font-size="8.6">.</text><text transform="translate(16.96,158.35) scale(0.902,1)" font-size="8.6">5</text>
<line x1="23.00" y1="132.97" x2="25.40" y2="132.97" stroke="#3a3a3a" stroke-width="0.8"/>
<text transform="translate(2.90,136.17) scale(1.075,1)" font-size="8.6">−</text><text transform="translate(9.36,136.17) scale(0.918,1)" font-size="8.6">3</text><text transform="translate(14.09,136.17) scale(0.981,1)" font-size="8.6">.</text><text transform="translate(16.70,136.17) scale(0.956,1)" font-size="8.6">0</text>
<line x1="23.00" y1="110.78" x2="25.40" y2="110.78" stroke="#3a3a3a" stroke-width="0.8"/>
<text transform="translate(3.06,113.98) scale(1.075,1)" font-size="8.6">−</text><text transform="translate(9.40,113.98) scale(0.922,1)" font-size="8.6">2</text><text transform="translate(14.25,113.98) scale(0.981,1)" font-size="8.6">.</text><text transform="translate(16.96,113.98) scale(0.902,1)" font-size="8.6">5</text>
<line x1="23.00" y1="88.60" x2="25.40" y2="88.60" stroke="#3a3a3a" stroke-width="0.8"/>
<text transform="translate(2.90,91.80) scale(1.075,1)" font-size="8.6">−</text><text transform="translate(9.24,91.80) scale(0.922,1)" font-size="8.6">2</text><text transform="translate(14.09,91.80) scale(0.981,1)" font-size="8.6">.</text><text transform="translate(16.70,91.80) scale(0.956,1)" font-size="8.6">0</text>
<line x1="23.00" y1="66.42" x2="25.40" y2="66.42" stroke="#3a3a3a" stroke-width="0.8"/>
<text transform="translate(3.06,69.62) scale(1.075,1)" font-size="8.6">−</text><text transform="translate(9.49,69.62) scale(0.913,1)" font-size="8.6">1</text><text transform="translate(14.25,69.62) scale(0.981,1)" font-size="8.6">.</text><text transform="translate(16.96,69.62) scale(0.902,1)" font-size="8.6">5</text>
<line x1="23.00" y1="44.23" x2="25.40" y2="44.23" stroke="#3a3a3a" stroke-width="0.8"/>
<text transform="translate(2.90,47.43) scale(1.075,1)" font-size="8.6">−</text><text transform="translate(9.32,47.43) scale(0.913,1)" font-size="8.6">1</text><text transform="translate(14.09,47.43) scale(0.981,1)" font-size="8.6">.</text><text transform="translate(16.70,47.43) scale(0.956,1)" font-size="8.6">0</text>
<line x1="23.00" y1="22.05" x2="25.40" y2="22.05" stroke="#3a3a3a" stroke-width="0.8"/>
<text transform="translate(3.06,25.25) scale(1.075,1)" font-size="8.6">−</text><text transform="translate(9.42,25.25) scale(0.956,1)" font-size="8.6">0</text><text transform="translate(14.25,25.25) scale(0.981,1)" font-size="8.6">.</text><text transform="translate(16.96,25.25) scale(0.902,1)" font-size="8.6">5</text>
<text x="124.88" y="9.80" font-size="8.9" text-anchor="middle" style="stroke-width:0.22px" textLength="71.2" lengthAdjust="spacingAndGlyphs"><tspan font-style="italic">p</tspan> = 2, <tspan font-style="italic">g</tspan>/<tspan font-style="italic">B</tspan> = -2.5</text>
<text style="stroke-width:0.22px" font-style="italic"><tspan x="116.38" y="180.70" font-size="8.5">k</tspan><tspan x="121.33" y="182.50" font-size="6.5" font-style="normal">2</tspan><tspan x="124.58" y="181.40" font-size="9.0" font-style="normal">/</tspan><tspan x="128.78" y="180.70" font-size="7.6">π</tspan></text>
<text transform="translate(232.65,88.05) rotate(-90)" x="0" y="0" font-size="9.0" text-anchor="middle" style="stroke-width:0.4px" textLength="13.4" lengthAdjust="spacingAndGlyphs" font-style="italic">E/B</text>
<text x="5.60" y="11.75" font-size="6.5" textLength="9.79" lengthAdjust="spacingAndGlyphs" style="stroke-width:0.2px">(a)</text>
<path d="M348.54,20.15 L348.79,20.21 L349.04,20.27 L349.28,20.33 L349.53,20.39 L349.77,20.45 L350.02,20.51 L350.26,20.57 L350.51,20.63 L350.75,20.69 L350.99,20.75 L351.24,20.81 L351.49,20.87 L351.74,20.93 L351.98,20.99 L352.23,21.05 L352.47,21.11 L352.72,21.17 L352.96,21.23 L353.21,21.29 L353.45,21.35 L353.70,21.41 L353.94,21.47 L354.18,21.53 L354.43,21.60 L354.68,21.66 L354.92,21.72 L355.17,21.78 L355.41,21.84 L355.66,21.90 L355.90,21.97 L356.15,22.03 L356.39,22.09 L356.63,22.15 L356.88,22.21 L357.12,22.27 L357.37,22.33 L357.61,22.40 L357.86,22.46 L358.10,22.52 L358.35,22.58 L358.59,22.65 L358.84,22.71 L359.08,22.77 L359.33,22.83 L359.57,22.89 L359.81,22.96 L360.06,23.02 L360.30,23.08 L360.55,23.15 L360.79,23.21 L361.04,23.27 L361.28,23.34 L361.53,23.40 L361.77,23.46 L362.01,23.52 L362.26,23.59 L362.50,23.65 L362.74,23.71 L362.99,23.78 L363.23,23.84 L363.48,23.91 L363.72,23.97 L363.97,24.03 L364.21,24.10 L364.45,24.16 L364.70,24.22 L364.94,24.29 L365.18,24.35 L365.43,24.42 L365.67,24.48 L365.92,24.55 L366.16,24.61 L366.40,24.68 L366.65,24.74 L366.89,24.80 L367.13,24.87 L367.38,24.93 L367.62,25.00 L367.87,25.07 L368.11,25.13 L368.36,25.20 L368.60,25.26 L368.84,25.33 L369.08,25.39 L369.32,25.46 L369.57,25.52 L369.81,25.59 L370.06,25.65 L370.30,25.72 L370.55,25.79 L370.79,25.85 L371.03,25.92 L371.27,25.98 L371.52,26.05 L371.76,26.12 L372.01,26.19 L372.25,26.25 L372.49,26.32 L372.74,26.39 L372.98,26.45 L373.22,26.52 L373.47,26.59 L373.71,26.65 L373.95,26.72 L374.20,26.79 L374.44,26.86 L374.68,26.92 L374.92,26.99 L375.17,27.06 L375.41,27.13 L375.65,27.20 L375.90,27.26 L376.14,27.33 L376.38,27.40 L376.62,27.47 L376.87,27.54 L377.11,27.60 L377.35,27.67 L377.60,27.74 L377.84,27.81 L378.08,27.88 L378.32,27.95 L378.56,28.02 L378.81,28.09 L379.05,28.16 L379.30,28.23 L379.54,28.30 L379.78,28.37 L380.02,28.43 L380.26,28.50 L380.50,28.57 L380.75,28.64 L380.99,28.71 L381.23,28.78 L381.47,28.85 L381.71,28.92 L381.96,29.00 L382.20,29.07 L382.44,29.14 L382.69,29.21 L382.93,29.28 L383.17,29.35 L383.41,29.42 L383.65,29.49 L383.90,29.56 L384.14,29.64 L384.38,29.71 L384.62,29.78 L384.86,29.85 L385.10,29.92 L385.34,29.99 L385.59,30.07 L385.83,30.14 L386.07,30.21 L386.31,30.28 L386.55,30.36 L386.79,30.43 L387.03,30.50 L387.27,30.57 L387.51,30.65 L387.76,30.72 L388.00,30.79 L388.24,30.87 L388.48,30.94 L388.72,31.01 L388.96,31.09 L389.20,31.16 L389.44,31.23 L389.68,31.31 L389.92,31.38 L390.17,31.46 L390.41,31.53 L390.65,31.61 L390.89,31.68 L391.13,31.76 L391.37,31.83 L391.61,31.91 L391.85,31.98 L392.09,32.06 L392.33,32.13 L392.57,32.21 L392.81,32.28 L393.05,32.36 L393.29,32.44 L393.53,32.51 L393.77,32.59 L394.01,32.66 L394.25,32.74 L394.49,32.82 L394.73,32.89 L394.97,32.97 L395.21,33.05 L395.45,33.13 L395.69,33.20 L395.93,33.28 L396.17,33.36 L396.41,33.44 L396.65,33.51 L396.88,33.59 L397.12,33.67 L397.36,33.75 L397.60,33.83 L397.84,33.90 L398.08,33.98 L398.32,34.06 L398.56,34.14 L398.80,34.22 L399.03,34.30 L399.27,34.38 L399.51,34.46 L399.75,34.54 L399.99,34.62 L400.22,34.70 L400.46,34.78 L400.70,34.86 L400.94,34.94 L401.18,35.02 L401.42,35.10 L401.65,35.18 L401.89,35.26 L402.13,35.35 L402.37,35.43 L402.61,35.51 L402.85,35.59 L403.08,35.67 L403.32,35.76 L403.56,35.84 L403.80,35.92 L404.03,36.00 L404.27,36.09 L404.51,36.17 L404.75,36.25 L404.98,36.34 L405.22,36.42 L405.46,36.51 L405.69,36.59 L405.93,36.67 L406.17,36.76 L406.41,36.84 L406.64,36.93 L406.88,37.01 L407.11,37.10 L407.35,37.18 L407.59,37.27 L407.82,37.36 L408.06,37.44 L408.30,37.53 L408.53,37.62 L408.77,37.70 L409.00,37.79 L409.24,37.88 L409.47,37.96 L409.71,38.05 L409.95,38.14 L410.18,38.23 L410.42,38.32 L410.65,38.41 L410.89,38.49 L411.12,38.58 L411.36,38.67 L411.59,38.76 L411.83,38.85 L412.06,38.94 L412.30,39.03 L412.53,39.12 L412.76,39.21 L413.00,39.30 L413.23,39.40 L413.47,39.49 L413.70,39.58 L413.93,39.67 L414.17,39.76 L414.40,39.86 L414.63,39.95 L414.87,40.04 L415.10,40.13 L415.33,40.23 L415.57,40.32 L415.80,40.42 L416.03,40.51 L416.27,40.61 L416.50,40.70 L416.73,40.80 L416.96,40.89 L417.19,40.99 L417.43,41.08 L417.66,41.18 L417.89,41.28 L418.12,41.37 L418.35,41.47 L418.58,41.57 L418.82,41.67 L419.05,41.77 L419.28,41.87 L419.51,41.96 L419.74,42.06 L419.97,42.16 L420.20,42.26 L420.43,42.37 L420.66,42.47 L420.89,42.57 L421.12,42.67 L421.34,42.77 L421.57,42.87 L421.80,42.98 L422.03,43.08 L422.26,43.18 L422.49,43.29 L422.71,43.39 L422.94,43.50 L423.17,43.60 L423.40,43.71 L423.63,43.82 L423.85,43.92 L424.08,44.03 L424.31,44.14 L424.53,44.25 L424.76,44.36 L424.98,44.47 L425.21,44.57 L425.43,44.68 L425.66,44.80 L425.88,44.91 L426.11,45.02 L426.33,45.13 L426.56,45.24 L426.78,45.36 L427.00,45.47 L427.23,45.59 L427.45,45.70 L427.67,45.82 L427.90,45.94 L428.12,46.05 L428.34,46.17 L428.56,46.29 L428.78,46.41 L429.00,46.53 L429.22,46.65 L429.44,46.77 L429.66,46.89 L429.88,47.01 L430.09,47.14 L430.31,47.26 L430.53,47.39 L430.74,47.51 L430.96,47.64 L431.18,47.77 L431.39,47.90 L431.61,48.03 L431.82,48.16 L432.03,48.29 L432.25,48.42 L432.46,48.56 L432.67,48.69 L432.88,48.83 L433.09,48.96 L433.30,49.10 L433.51,49.24 L433.71,49.38 L433.92,49.52 L434.12,49.67 L434.33,49.81 L434.53,49.96 L434.73,50.11 L434.94,50.25 L435.14,50.41 L435.33,50.56 L435.53,50.71 L435.73,50.87 L435.92,51.03 L436.11,51.19 L436.30,51.35 L436.49,51.52 L436.68,51.68 L436.86,51.85 L437.04,52.02 L437.22,52.20 L437.40,52.38 L437.57,52.56 L437.74,52.75 L437.90,52.93 L438.06,53.13 L438.22,53.32 L438.36,53.53 L438.50,53.73 L438.63,53.95 L438.75,54.17 L438.86,54.40 L438.94,54.63 L439.08,54.43 L439.18,54.20 L439.30,53.98 L439.43,53.76 L439.57,53.56 L439.71,53.35 L439.87,53.15 L440.02,52.96 L440.19,52.77 L440.36,52.59 L440.53,52.40 L440.70,52.23 L440.88,52.05 L441.06,51.88 L441.25,51.71 L441.43,51.54 L441.62,51.37 L441.81,51.21 L442.00,51.05 L442.19,50.89 L442.39,50.74 L442.59,50.58 L442.79,50.43 L442.99,50.28 L443.19,50.13 L443.39,49.98 L443.59,49.83 L443.80,49.69 L444.00,49.54 L444.21,49.40 L444.41,49.26 L444.62,49.12 L444.83,48.98 L445.04,48.85 L445.25,48.71 L445.46,48.57 L445.67,48.44 L445.89,48.31 L446.10,48.18 L446.31,48.05 L446.53,47.92 L446.74,47.79 L446.96,47.66 L447.17,47.53 L447.39,47.41 L447.61,47.28 L447.82,47.16 L448.04,47.03 L448.26,46.91 L448.48,46.79 L448.70,46.67 L448.92,46.55 L449.14,46.43 L449.36,46.31 L449.58,46.19 L449.80,46.07 L450.02,45.95 L450.24,45.84 L450.47,45.72 L450.69,45.60 L450.91,45.49 L451.14,45.38 L451.36,45.26 L451.58,45.15 L451.81,45.04 L452.03,44.92 L452.25,44.81 L452.48,44.70 L452.71,44.59 L452.93,44.48 L453.16,44.37 L453.38,44.26 L453.61,44.16 L453.84,44.05 L454.06,43.94 L454.29,43.83 L454.52,43.73 L454.74,43.62 L454.97,43.52 L455.20,43.41 L455.43,43.31 L455.66,43.20 L455.88,43.10 L456.11,42.99 L456.34,42.89 L456.57,42.79 L456.80,42.69 L457.03,42.58 L457.26,42.48 L457.49,42.38 L457.72,42.28 L457.95,42.18 L458.18,42.08 L458.41,41.98 L458.64,41.88 L458.86,41.78 L459.10,41.68 L459.33,41.59 L459.56,41.49 L459.79,41.39 L460.02,41.29 L460.25,41.20 L460.49,41.10 L460.72,41.00 L460.95,40.91 L461.18,40.81 L461.41,40.72 L461.65,40.62 L461.88,40.53 L462.11,40.43 L462.34,40.34 L462.58,40.24 L462.81,40.15 L463.04,40.06 L463.28,39.96 L463.51,39.87 L463.74,39.78 L463.98,39.69 L464.21,39.59 L464.45,39.50 L464.68,39.41 L464.91,39.32 L465.15,39.23 L465.38,39.14 L465.62,39.05 L465.85,38.96 L466.09,38.87 L466.32,38.78 L466.55,38.69 L466.79,38.60 L467.02,38.51 L467.26,38.42 L467.49,38.33 L467.73,38.24 L467.97,38.15 L468.20,38.07 L468.44,37.98 L468.67,37.89 L468.91,37.80 L469.14,37.72 L469.38,37.63 L469.61,37.54 L469.85,37.46 L470.09,37.37 L470.32,37.28 L470.56,37.20 L470.80,37.11 L471.03,37.03 L471.27,36.94 L471.51,36.86 L471.74,36.77 L471.98,36.69 L472.22,36.60 L472.45,36.52 L472.69,36.44 L472.93,36.35 L473.16,36.27 L473.40,36.18 L473.64,36.10 L473.87,36.02 L474.11,35.94 L474.35,35.85 L474.59,35.77 L474.82,35.69 L475.06,35.61 L475.30,35.52 L475.54,35.44 L475.77,35.36 L476.01,35.28 L476.25,35.20 L476.49,35.12 L476.73,35.04 L476.97,34.95 L477.20,34.87 L477.44,34.79 L477.68,34.71 L477.92,34.63 L478.16,34.55 L478.39,34.47 L478.63,34.39 L478.87,34.31 L479.11,34.23 L479.35,34.15 L479.59,34.08 L479.83,34.00 L480.07,33.92 L480.31,33.84 L480.55,33.76 L480.79,33.68 L481.03,33.60 L481.26,33.53 L481.50,33.45 L481.74,33.37 L481.98,33.29 L482.22,33.22 L482.46,33.14 L482.70,33.06 L482.94,32.98 L483.18,32.91 L483.42,32.83 L483.66,32.75 L483.90,32.68 L484.14,32.60 L484.38,32.52 L484.62,32.45 L484.86,32.37 L485.10,32.30 L485.34,32.22 L485.58,32.15 L485.82,32.07 L486.06,31.99 L486.30,31.92 L486.54,31.84 L486.78,31.77 L487.02,31.69 L487.26,31.62 L487.50,31.55 L487.74,31.47 L487.98,31.40 L488.22,31.32 L488.46,31.25 L488.70,31.18 L488.94,31.10 L489.18,31.03 L489.43,30.95 L489.67,30.88 L489.91,30.81 L490.15,30.73 L490.39,30.66 L490.63,30.59 L490.87,30.51 L491.11,30.44 L491.35,30.37 L491.59,30.30 L491.84,30.22 L492.08,30.15 L492.32,30.08 L492.56,30.01 L492.80,29.94 L493.04,29.86 L493.28,29.79 L493.52,29.72 L493.77,29.65 L494.01,29.58 L494.25,29.51 L494.49,29.44 L494.73,29.36 L494.97,29.29 L495.22,29.22 L495.46,29.15 L495.70,29.08 L495.94,29.01 L496.19,28.94 L496.43,28.87 L496.67,28.80 L496.91,28.73 L497.15,28.66 L497.39,28.59 L497.64,28.52 L497.88,28.45 L498.12,28.38 L498.36,28.31 L498.60,28.24 L498.85,28.17 L499.09,28.10 L499.33,28.03 L499.58,27.96 L499.82,27.89 L500.06,27.83 L500.30,27.76 L500.54,27.69 L500.79,27.62 L501.03,27.55 L501.27,27.48 L501.52,27.41 L501.76,27.35 L502.00,27.28 L502.24,27.21 L502.49,27.14 L502.73,27.07 L502.97,27.01 L503.21,26.94 L503.46,26.87 L503.70,26.80 L503.94,26.74 L504.19,26.67 L504.43,26.60 L504.68,26.53 L504.92,26.47 L505.16,26.40 L505.40,26.33 L505.64,26.27 L505.89,26.20 L506.13,26.13 L506.38,26.07 L506.62,26.00 L506.86,25.93 L507.11,25.87 L507.35,25.80 L507.59,25.74 L507.84,25.67 L508.08,25.60 L508.32,25.54 L508.57,25.47 L508.81,25.41 L509.05,25.34 L509.30,25.28 L509.54,25.21 L509.78,25.15 L510.03,25.08 L510.27,25.01 L510.52,24.95 L510.76,24.88 L511.00,24.82 L511.25,24.76 L511.49,24.69 L511.73,24.63 L511.97,24.56 L512.22,24.50 L512.46,24.43 L512.71,24.37 L512.95,24.30 L513.20,24.24 L513.44,24.17 L513.69,24.11 L513.93,24.05 L514.17,23.98 L514.42,23.92 L514.66,23.86 L514.91,23.79 L515.15,23.73 L515.40,23.66 L515.64,23.60 L515.89,23.54 L516.13,23.47 L516.37,23.41 L516.62,23.35 L516.86,23.29 L517.11,23.22 L517.35,23.16 L517.60,23.10 L517.84,23.03 L518.09,22.97 L518.33,22.91 L518.57,22.85 L518.82,22.78 L519.06,22.72 L519.30,22.66 L519.55,22.60 L519.79,22.53 L520.04,22.47 L520.29,22.41 L520.53,22.35 L520.78,22.28 L521.02,22.22 L521.26,22.16 L521.51,22.10 L521.75,22.04 L521.99,21.98 L522.24,21.92 L522.48,21.86 L522.73,21.79 L522.98,21.73 L523.22,21.67 L523.47,21.61 L523.72,21.55 L523.96,21.49 L524.20,21.43 L524.44,21.37 L524.69,21.31 L524.93,21.25 L525.18,21.18 L525.42,21.12 L525.67,21.06 L525.91,21.00 L526.16,20.94 L526.41,20.88 L526.65,20.82 L526.90,20.76 L527.15,20.70 L527.39,20.64 L527.63,20.58 L527.88,20.52 L528.12,20.46 L528.37,20.40 L528.61,20.34 L528.86,20.28 L529.10,20.22 L529.35,20.16 L529.41,20.15" fill="none" stroke="#0808d0" stroke-width="2.1" stroke-linejoin="round" stroke-linecap="round"/>
<path d="M348.55,152.68 L348.80,152.69 L349.06,152.70 L349.32,152.72 L349.57,152.73 L349.83,152.75 L350.09,152.76 L350.35,152.77 L350.60,152.79 L350.86,152.80 L351.12,152.81 L351.38,152.83 L351.63,152.84 L351.89,152.86 L352.15,152.87 L352.41,152.88 L352.67,152.90 L352.92,152.91 L353.18,152.92 L353.44,152.94 L353.70,152.95 L353.95,152.96 L354.21,152.98 L354.47,152.99 L354.73,153.00 L354.99,153.02 L355.24,153.03 L355.50,153.04 L355.76,153.06 L356.02,153.07 L356.28,153.08 L356.53,153.09 L356.79,153.11 L357.05,153.12 L357.31,153.13 L357.57,153.14 L357.83,153.16 L358.08,153.17 L358.34,153.18 L358.60,153.20 L358.86,153.21 L359.12,153.22 L359.38,153.23 L359.63,153.25 L359.89,153.26 L360.15,153.27 L360.41,153.28 L360.67,153.29 L360.93,153.31 L361.19,153.32 L361.44,153.33 L361.70,153.34 L361.95,153.36 L362.20,153.37 L362.45,153.38 L362.70,153.39 L362.95,153.40 L363.20,153.41 L363.45,153.42 L363.70,153.44 L363.95,153.45 L364.20,153.46 L364.45,153.47 L364.70,153.48 L364.95,153.49 L365.20,153.50 L365.45,153.51 L365.70,153.53 L365.95,153.54 L366.20,153.55 L366.45,153.56 L366.70,153.57 L366.95,153.58 L367.20,153.59 L367.45,153.60 L367.70,153.61 L367.95,153.62 L368.20,153.63 L368.45,153.65 L368.70,153.66 L368.95,153.67 L369.20,153.68 L369.46,153.69 L369.71,153.70 L369.96,153.71 L370.21,153.72 L370.46,153.73 L370.71,153.74 L370.96,153.75 L371.21,153.76 L371.46,153.77 L371.71,153.78 L371.96,153.79 L372.21,153.80 L372.46,153.81 L372.71,153.82 L372.96,153.83 L373.21,153.84 L373.46,153.85 L373.71,153.86 L373.97,153.87 L374.22,153.88 L374.47,153.89 L374.72,153.90 L374.97,153.91 L375.22,153.92 L375.47,153.93 L375.72,153.94 L375.97,153.95 L376.22,153.96 L376.47,153.97 L376.72,153.98 L376.98,153.99 L377.23,154.00 L377.48,154.01 L377.73,154.01 L377.98,154.02 L378.23,154.03 L378.48,154.04 L378.73,154.05 L378.98,154.06 L379.24,154.07 L379.49,154.08 L379.74,154.09 L379.99,154.10 L380.24,154.11 L380.49,154.12 L380.74,154.12 L380.99,154.13 L381.25,154.14 L381.50,154.15 L381.75,154.16 L382.00,154.17 L382.25,154.18 L382.50,154.18 L382.75,154.19 L383.00,154.20 L383.26,154.21 L383.51,154.22 L383.76,154.23 L384.01,154.24 L384.26,154.24 L384.51,154.25 L384.76,154.26 L385.02,154.27 L385.27,154.28 L385.52,154.29 L385.77,154.29 L386.02,154.30 L386.27,154.31 L386.53,154.32 L386.78,154.33 L387.03,154.33 L387.28,154.34 L387.53,154.35 L387.78,154.36 L388.04,154.36 L388.29,154.37 L388.54,154.38 L388.79,154.39 L389.04,154.40 L389.29,154.40 L389.55,154.41 L389.80,154.42 L390.05,154.43 L390.30,154.43 L390.55,154.44 L390.81,154.45 L391.06,154.46 L391.31,154.46 L391.56,154.47 L391.81,154.48 L392.07,154.48 L392.32,154.49 L392.57,154.50 L392.82,154.51 L393.07,154.51 L393.32,154.52 L393.58,154.53 L393.83,154.53 L394.08,154.54 L394.33,154.55 L394.59,154.55 L394.84,154.56 L395.09,154.57 L395.34,154.57 L395.59,154.58 L395.85,154.59 L396.10,154.59 L396.35,154.60 L396.60,154.61 L396.85,154.61 L397.11,154.62 L397.36,154.63 L397.61,154.63 L397.86,154.64 L398.12,154.64 L398.37,154.65 L398.62,154.66 L398.87,154.66 L399.12,154.67 L399.38,154.68 L399.63,154.68 L399.88,154.69 L400.13,154.69 L400.39,154.70 L400.64,154.71 L400.89,154.71 L401.14,154.72 L401.40,154.72 L401.65,154.73 L401.90,154.73 L402.15,154.74 L402.41,154.75 L402.66,154.75 L402.91,154.76 L403.16,154.76 L403.42,154.77 L403.67,154.77 L403.92,154.78 L404.17,154.78 L404.43,154.79 L404.68,154.79 L404.93,154.80 L405.18,154.80 L405.44,154.81 L405.69,154.81 L405.94,154.82 L406.19,154.82 L406.45,154.83 L406.70,154.83 L406.95,154.84 L407.20,154.84 L407.46,154.85 L407.71,154.85 L407.96,154.86 L408.21,154.86 L408.47,154.87 L408.72,154.87 L408.97,154.88 L409.22,154.88 L409.48,154.89 L409.73,154.89 L409.98,154.90 L410.24,154.90 L410.49,154.90 L410.74,154.91 L410.99,154.91 L411.25,154.92 L411.50,154.92 L411.75,154.93 L412.00,154.93 L412.26,154.93 L412.51,154.94 L412.76,154.94 L413.02,154.95 L413.27,154.95 L413.52,154.95 L413.77,154.96 L414.03,154.96 L414.28,154.97 L414.53,154.97 L414.79,154.97 L415.04,154.98 L415.29,154.98 L415.54,154.98 L415.80,154.99 L416.05,154.99 L416.30,154.99 L416.56,155.00 L416.81,155.00 L417.06,155.00 L417.32,155.01 L417.57,155.01 L417.82,155.01 L418.07,155.02 L418.33,155.02 L418.58,155.02 L418.83,155.03 L419.09,155.03 L419.34,155.03 L419.59,155.04 L419.84,155.04 L420.10,155.04 L420.35,155.05 L420.60,155.05 L420.86,155.05 L421.11,155.05 L421.36,155.06 L421.62,155.06 L421.87,155.06 L422.12,155.06 L422.38,155.07 L422.63,155.07 L422.88,155.07 L423.13,155.07 L423.39,155.08 L423.64,155.08 L423.89,155.08 L424.15,155.08 L424.40,155.09 L424.65,155.09 L424.91,155.09 L425.16,155.09 L425.41,155.09 L425.67,155.10 L425.92,155.10 L426.17,155.10 L426.42,155.10 L426.68,155.10 L426.93,155.11 L427.18,155.11 L427.44,155.11 L427.69,155.11 L427.94,155.11 L428.20,155.11 L428.45,155.12 L428.70,155.12 L428.96,155.12 L429.21,155.12 L429.46,155.12 L429.72,155.12 L429.97,155.13 L430.22,155.13 L430.47,155.13 L430.73,155.13 L430.98,155.13 L431.23,155.13 L431.49,155.13 L431.74,155.13 L431.99,155.14 L432.25,155.14 L432.50,155.14 L432.75,155.14 L433.01,155.14 L433.26,155.14 L433.51,155.14 L433.77,155.14 L434.02,155.14 L434.27,155.14 L434.53,155.14 L434.78,155.14 L435.03,155.15 L435.29,155.15 L435.54,155.15 L435.79,155.15 L436.05,155.15 L436.30,155.15 L436.55,155.15 L436.80,155.15 L437.06,155.15 L437.31,155.15 L437.56,155.15 L437.82,155.15 L438.07,155.15 L438.32,155.15 L438.58,155.15 L438.83,155.15 L439.08,155.15 L439.34,155.15 L439.59,155.15 L439.84,155.15 L440.10,155.15 L440.35,155.15 L440.60,155.15 L440.86,155.15 L441.11,155.15 L441.36,155.15 L441.62,155.15 L441.87,155.15 L442.12,155.15 L442.38,155.15 L442.63,155.15 L442.88,155.15 L443.13,155.14 L443.39,155.14 L443.64,155.14 L443.89,155.14 L444.15,155.14 L444.40,155.14 L444.65,155.14 L444.91,155.14 L445.16,155.14 L445.41,155.14 L445.67,155.14 L445.92,155.14 L446.17,155.13 L446.43,155.13 L446.68,155.13 L446.93,155.13 L447.19,155.13 L447.44,155.13 L447.69,155.13 L447.95,155.13 L448.20,155.12 L448.45,155.12 L448.70,155.12 L448.96,155.12 L449.21,155.12 L449.46,155.12 L449.72,155.12 L449.97,155.11 L450.22,155.11 L450.48,155.11 L450.73,155.11 L450.98,155.11 L451.24,155.10 L451.49,155.10 L451.74,155.10 L452.00,155.10 L452.25,155.10 L452.50,155.09 L452.75,155.09 L453.01,155.09 L453.26,155.09 L453.51,155.09 L453.77,155.08 L454.02,155.08 L454.27,155.08 L454.53,155.08 L454.78,155.07 L455.03,155.07 L455.29,155.07 L455.54,155.07 L455.79,155.06 L456.04,155.06 L456.30,155.06 L456.55,155.06 L456.80,155.05 L457.06,155.05 L457.31,155.05 L457.56,155.05 L457.82,155.04 L458.07,155.04 L458.32,155.04 L458.57,155.03 L458.83,155.03 L459.08,155.03 L459.33,155.02 L459.59,155.02 L459.84,155.02 L460.09,155.02 L460.35,155.01 L460.60,155.01 L460.85,155.01 L461.10,155.00 L461.36,155.00 L461.61,154.99 L461.86,154.99 L462.12,154.99 L462.37,154.98 L462.62,154.98 L462.87,154.98 L463.13,154.97 L463.38,154.97 L463.63,154.97 L463.89,154.96 L464.14,154.96 L464.39,154.95 L464.64,154.95 L464.90,154.95 L465.15,154.94 L465.40,154.94 L465.66,154.93 L465.91,154.93 L466.16,154.93 L466.41,154.92 L466.67,154.92 L466.92,154.91 L467.17,154.91 L467.43,154.91 L467.68,154.90 L467.93,154.90 L468.18,154.89 L468.44,154.89 L468.69,154.88 L468.94,154.88 L469.19,154.87 L469.45,154.87 L469.70,154.86 L469.95,154.86 L470.21,154.85 L470.46,154.85 L470.71,154.85 L470.96,154.84 L471.22,154.84 L471.47,154.83 L471.72,154.83 L471.97,154.82 L472.23,154.82 L472.48,154.81 L472.73,154.81 L472.98,154.80 L473.24,154.79 L473.49,154.79 L473.74,154.78 L473.99,154.78 L474.25,154.77 L474.50,154.77 L474.75,154.76 L475.00,154.76 L475.26,154.75 L475.51,154.75 L475.76,154.74 L476.01,154.73 L476.27,154.73 L476.52,154.72 L476.77,154.72 L477.02,154.71 L477.28,154.71 L477.53,154.70 L477.78,154.69 L478.03,154.69 L478.28,154.68 L478.54,154.68 L478.79,154.67 L479.04,154.66 L479.29,154.66 L479.55,154.65 L479.80,154.65 L480.05,154.64 L480.30,154.63 L480.56,154.63 L480.81,154.62 L481.06,154.61 L481.31,154.61 L481.56,154.60 L481.82,154.59 L482.07,154.59 L482.32,154.58 L482.57,154.57 L482.82,154.57 L483.08,154.56 L483.33,154.55 L483.58,154.55 L483.83,154.54 L484.09,154.53 L484.34,154.53 L484.59,154.52 L484.84,154.51 L485.09,154.51 L485.35,154.50 L485.60,154.49 L485.85,154.49 L486.10,154.48 L486.35,154.47 L486.60,154.46 L486.86,154.46 L487.11,154.45 L487.36,154.44 L487.61,154.43 L487.86,154.43 L488.12,154.42 L488.37,154.41 L488.62,154.40 L488.87,154.40 L489.12,154.39 L489.37,154.38 L489.63,154.37 L489.88,154.37 L490.13,154.36 L490.38,154.35 L490.63,154.34 L490.89,154.33 L491.14,154.33 L491.39,154.32 L491.64,154.31 L491.89,154.30 L492.14,154.29 L492.39,154.29 L492.65,154.28 L492.90,154.27 L493.15,154.26 L493.40,154.25 L493.65,154.25 L493.90,154.24 L494.16,154.23 L494.41,154.22 L494.66,154.21 L494.91,154.20 L495.16,154.19 L495.41,154.19 L495.66,154.18 L495.91,154.17 L496.17,154.16 L496.42,154.15 L496.67,154.14 L496.92,154.13 L497.17,154.13 L497.42,154.12 L497.67,154.11 L497.93,154.10 L498.18,154.09 L498.43,154.08 L498.68,154.07 L498.93,154.06 L499.18,154.05 L499.43,154.04 L499.68,154.03 L499.93,154.03 L500.19,154.02 L500.44,154.01 L500.69,154.00 L500.94,153.99 L501.19,153.98 L501.44,153.97 L501.69,153.96 L501.94,153.95 L502.19,153.94 L502.44,153.93 L502.69,153.92 L502.95,153.91 L503.20,153.90 L503.45,153.89 L503.70,153.88 L503.95,153.87 L504.20,153.86 L504.45,153.85 L504.70,153.84 L504.95,153.83 L505.20,153.82 L505.45,153.81 L505.70,153.80 L505.95,153.79 L506.20,153.78 L506.46,153.77 L506.71,153.76 L506.96,153.75 L507.21,153.74 L507.46,153.73 L507.71,153.72 L507.96,153.71 L508.21,153.70 L508.46,153.69 L508.71,153.68 L508.96,153.67 L509.21,153.66 L509.46,153.65 L509.71,153.64 L509.96,153.63 L510.21,153.61 L510.46,153.60 L510.71,153.59 L510.96,153.58 L511.21,153.57 L511.46,153.56 L511.71,153.55 L511.96,153.54 L512.21,153.53 L512.46,153.52 L512.71,153.50 L512.96,153.49 L513.21,153.48 L513.46,153.47 L513.71,153.46 L513.96,153.45 L514.21,153.44 L514.46,153.43 L514.71,153.41 L514.96,153.40 L515.21,153.39 L515.46,153.38 L515.71,153.37 L515.96,153.36 L516.21,153.35 L516.47,153.33 L516.73,153.32 L516.99,153.31 L517.25,153.30 L517.50,153.28 L517.76,153.27 L518.02,153.26 L518.28,153.25 L518.54,153.23 L518.80,153.22 L519.06,153.21 L519.31,153.20 L519.57,153.18 L519.83,153.17 L520.09,153.16 L520.35,153.15 L520.61,153.13 L520.86,153.12 L521.12,153.11 L521.38,153.10 L521.64,153.08 L521.90,153.07 L522.15,153.06 L522.41,153.04 L522.67,153.03 L522.93,153.02 L523.19,153.00 L523.44,152.99 L523.70,152.98 L523.96,152.96 L524.22,152.95 L524.48,152.94 L524.73,152.93 L524.99,152.91 L525.25,152.90 L525.51,152.88 L525.76,152.87 L526.02,152.86 L526.28,152.84 L526.54,152.83 L526.79,152.82 L527.05,152.80 L527.31,152.79 L527.57,152.78 L527.82,152.76 L528.08,152.75 L528.34,152.73 L528.60,152.72 L528.85,152.71 L529.11,152.69 L529.37,152.68 L529.40,152.68" fill="none" stroke="#0808d0" stroke-width="2.1" stroke-linejoin="round" stroke-linecap="round"/>
<circle cx="438.98" cy="54.84" r="1.75" fill="#d4121f"/>
<rect x="339.50" y="13.40" width="198.95" height="148.5" fill="none" stroke="#505050" stroke-width="1.1"/>
<line x1="348.54" y1="161.90" x2="348.54" y2="164.30" stroke="#3a3a3a" stroke-width="0.8"/>
<text transform="translate(336.81,172.00) scale(1.075,1)" font-size="8.6">−</text><text transform="translate(343.17,172.00) scale(0.956,1)" font-size="8.6">0</text><text transform="translate(348.00,172.00) scale(0.981,1)" font-size="8.6">.</text><text transform="translate(350.67,172.00) scale(0.913,1)" font-size="8.6">1</text><text transform="translate(355.57,172.00) scale(0.956,1)" font-size="8.6">0</text>
<line x1="393.76" y1="161.90" x2="393.76" y2="164.30" stroke="#3a3a3a" stroke-width="0.8"/>
<text transform="translate(382.11,172.00) scale(1.075,1)" font-size="8.6">−</text><text transform="translate(388.46,172.00) scale(0.956,1)" font-size="8.6">0</text><text transform="translate(393.30,172.00) scale(0.981,1)" font-size="8.6">.</text><text transform="translate(395.91,172.00) scale(0.956,1)" font-size="8.6">0</text><text transform="translate(400.97,172.00) scale(0.902,1)" font-size="8.6">5</text>
<line x1="438.98" y1="161.90" x2="438.98" y2="164.30" stroke="#3a3a3a" stroke-width="0.8"/>
<text transform="translate(430.49,172.00) scale(0.956,1)" font-size="8.6">0</text><text transform="translate(435.32,172.00) scale(0.981,1)" font-size="8.6">.</text><text transform="translate(437.93,172.00) scale(0.956,1)" font-size="8.6">0</text><text transform="translate(442.89,172.00) scale(0.956,1)" font-size="8.6">0</text>
<line x1="484.19" y1="161.90" x2="484.19" y2="164.30" stroke="#3a3a3a" stroke-width="0.8"/>
<text transform="translate(475.78,172.00) scale(0.956,1)" font-size="8.6">0</text><text transform="translate(480.62,172.00) scale(0.981,1)" font-size="8.6">.</text><text transform="translate(483.23,172.00) scale(0.956,1)" font-size="8.6">0</text><text transform="translate(488.29,172.00) scale(0.902,1)" font-size="8.6">5</text>
<line x1="529.41" y1="161.90" x2="529.41" y2="164.30" stroke="#3a3a3a" stroke-width="0.8"/>
<text transform="translate(520.92,172.00) scale(0.956,1)" font-size="8.6">0</text><text transform="translate(525.75,172.00) scale(0.981,1)" font-size="8.6">.</text><text transform="translate(528.43,172.00) scale(0.913,1)" font-size="8.6">1</text><text transform="translate(533.32,172.00) scale(0.956,1)" font-size="8.6">0</text>
<line x1="337.10" y1="155.15" x2="339.50" y2="155.15" stroke="#3a3a3a" stroke-width="0.8"/>
<text transform="translate(317.00,158.35) scale(1.075,1)" font-size="8.6">−</text><text transform="translate(323.46,158.35) scale(0.918,1)" font-size="8.6">3</text><text transform="translate(328.19,158.35) scale(0.981,1)" font-size="8.6">.</text><text transform="translate(330.80,158.35) scale(0.956,1)" font-size="8.6">0</text>
<line x1="337.10" y1="130.07" x2="339.50" y2="130.07" stroke="#3a3a3a" stroke-width="0.8"/>
<text transform="translate(317.16,133.27) scale(1.075,1)" font-size="8.6">−</text><text transform="translate(323.50,133.27) scale(0.922,1)" font-size="8.6">2</text><text transform="translate(328.35,133.27) scale(0.981,1)" font-size="8.6">.</text><text transform="translate(331.06,133.27) scale(0.902,1)" font-size="8.6">5</text>
<line x1="337.10" y1="104.99" x2="339.50" y2="104.99" stroke="#3a3a3a" stroke-width="0.8"/>
<text transform="translate(317.00,108.19) scale(1.075,1)" font-size="8.6">−</text><text transform="translate(323.34,108.19) scale(0.922,1)" font-size="8.6">2</text><text transform="translate(328.19,108.19) scale(0.981,1)" font-size="8.6">.</text><text transform="translate(330.80,108.19) scale(0.956,1)" font-size="8.6">0</text>
<line x1="337.10" y1="79.92" x2="339.50" y2="79.92" stroke="#3a3a3a" stroke-width="0.8"/>
<text transform="translate(317.16,83.12) scale(1.075,1)" font-size="8.6">−</text><text transform="translate(323.59,83.12) scale(0.913,1)" font-size="8.6">1</text><text transform="translate(328.35,83.12) scale(0.981,1)" font-size="8.6">.</text><text transform="translate(331.06,83.12) scale(0.902,1)" font-size="8.6">5</text>
<line x1="337.10" y1="54.84" x2="339.50" y2="54.84" stroke="#3a3a3a" stroke-width="0.8"/>
<text transform="translate(317.00,58.04) scale(1.075,1)" font-size="8.6">−</text><text transform="translate(323.42,58.04) scale(0.913,1)" font-size="8.6">1</text><text transform="translate(328.19,58.04) scale(0.981,1)" font-size="8.6">.</text><text transform="translate(330.80,58.04) scale(0.956,1)" font-size="8.6">0</text>
<line x1="337.10" y1="29.76" x2="339.50" y2="29.76" stroke="#3a3a3a" stroke-width="0.8"/>
<text transform="translate(317.16,32.96) scale(1.075,1)" font-size="8.6">−</text><text transform="translate(323.52,32.96) scale(0.956,1)" font-size="8.6">0</text><text transform="translate(328.35,32.96) scale(0.981,1)" font-size="8.6">.</text><text transform="translate(331.06,32.96) scale(0.902,1)" font-size="8.6">5</text>
<text x="438.98" y="9.80" font-size="8.9" text-anchor="middle" style="stroke-width:0.22px" textLength="71.2" lengthAdjust="spacingAndGlyphs"><tspan font-style="italic">p</tspan> = 2, <tspan font-style="italic">g</tspan>/<tspan font-style="italic">B</tspan> = -2.0</text>
<text style="stroke-width:0.22px" font-style="italic"><tspan x="430.48" y="180.70" font-size="8.5">k</tspan><tspan x="435.43" y="182.50" font-size="6.5" font-style="normal">2</tspan><tspan x="438.68" y="181.40" font-size="9.0" font-style="normal">/</tspan><tspan x="442.88" y="180.70" font-size="7.6">π</tspan></text>
<text transform="translate(546.75,88.05) rotate(-90)" x="0" y="0" font-size="9.0" text-anchor="middle" style="stroke-width:0.4px" textLength="13.4" lengthAdjust="spacingAndGlyphs" font-style="italic">E/B</text>
<text x="319.69" y="11.75" font-size="6.5" textLength="9.96" lengthAdjust="spacingAndGlyphs" style="stroke-width:0.2px">(b)</text>
<path d="M34.44,216.57 L34.69,216.56 L34.95,216.55 L35.20,216.53 L35.45,216.52 L35.70,216.51 L35.95,216.49 L36.20,216.48 L36.45,216.47 L36.70,216.45 L36.95,216.44 L37.20,216.43 L37.45,216.42 L37.70,216.40 L37.96,216.39 L38.21,216.38 L38.46,216.37 L38.71,216.35 L38.96,216.34 L39.21,216.33 L39.46,216.32 L39.71,216.30 L39.97,216.29 L40.22,216.28 L40.47,216.27 L40.72,216.25 L40.97,216.24 L41.22,216.23 L41.48,216.22 L41.73,216.20 L41.98,216.19 L42.23,216.18 L42.48,216.17 L42.73,216.16 L42.99,216.14 L43.24,216.13 L43.49,216.12 L43.74,216.11 L43.99,216.10 L44.25,216.08 L44.50,216.07 L44.75,216.06 L45.00,216.05 L45.25,216.04 L45.51,216.03 L45.76,216.01 L46.01,216.00 L46.26,215.99 L46.52,215.98 L46.77,215.97 L47.02,215.96 L47.27,215.94 L47.53,215.93 L47.78,215.92 L48.03,215.91 L48.28,215.90 L48.54,215.89 L48.79,215.88 L49.04,215.87 L49.29,215.85 L49.55,215.84 L49.80,215.83 L50.05,215.82 L50.31,215.81 L50.56,215.80 L50.81,215.79 L51.06,215.78 L51.32,215.77 L51.57,215.76 L51.82,215.75 L52.08,215.73 L52.33,215.72 L52.58,215.71 L52.84,215.70 L53.09,215.69 L53.34,215.68 L53.60,215.67 L53.85,215.66 L54.10,215.65 L54.36,215.64 L54.61,215.63 L54.86,215.62 L55.12,215.61 L55.37,215.60 L55.62,215.59 L55.88,215.58 L56.13,215.57 L56.38,215.56 L56.64,215.55 L56.89,215.54 L57.15,215.53 L57.40,215.52 L57.65,215.51 L57.91,215.50 L58.16,215.49 L58.41,215.48 L58.67,215.47 L58.92,215.46 L59.18,215.45 L59.43,215.44 L59.68,215.43 L59.94,215.42 L60.19,215.41 L60.45,215.40 L60.70,215.39 L60.95,215.38 L61.21,215.37 L61.46,215.36 L61.72,215.35 L61.97,215.34 L62.23,215.33 L62.48,215.33 L62.73,215.32 L62.99,215.31 L63.24,215.30 L63.50,215.29 L63.75,215.28 L64.01,215.27 L64.26,215.26 L64.52,215.25 L64.77,215.24 L65.03,215.23 L65.28,215.23 L65.53,215.22 L65.79,215.21 L66.04,215.20 L66.30,215.19 L66.55,215.18 L66.81,215.17 L67.06,215.16 L67.32,215.16 L67.57,215.15 L67.83,215.14 L68.08,215.13 L68.34,215.12 L68.59,215.11 L68.85,215.11 L69.10,215.10 L69.36,215.09 L69.61,215.08 L69.87,215.07 L70.12,215.06 L70.38,215.06 L70.63,215.05 L70.89,215.04 L71.14,215.03 L71.40,215.02 L71.65,215.02 L71.91,215.01 L72.16,215.00 L72.42,214.99 L72.68,214.98 L72.93,214.98 L73.19,214.97 L73.44,214.96 L73.70,214.95 L73.95,214.95 L74.21,214.94 L74.46,214.93 L74.72,214.92 L74.97,214.92 L75.23,214.91 L75.49,214.90 L75.74,214.89 L76.00,214.89 L76.25,214.88 L76.51,214.87 L76.76,214.87 L77.02,214.86 L77.28,214.85 L77.53,214.84 L77.79,214.84 L78.04,214.83 L78.30,214.82 L78.55,214.82 L78.81,214.81 L79.07,214.80 L79.32,214.80 L79.58,214.79 L79.83,214.78 L80.09,214.78 L80.35,214.77 L80.60,214.76 L80.86,214.76 L81.11,214.75 L81.37,214.74 L81.63,214.74 L81.88,214.73 L82.14,214.72 L82.39,214.72 L82.65,214.71 L82.91,214.70 L83.16,214.70 L83.42,214.69 L83.68,214.69 L83.93,214.68 L84.19,214.67 L84.44,214.67 L84.70,214.66 L84.96,214.65 L85.21,214.65 L85.47,214.64 L85.73,214.64 L85.98,214.63 L86.24,214.63 L86.50,214.62 L86.75,214.61 L87.01,214.61 L87.27,214.60 L87.52,214.60 L87.78,214.59 L88.03,214.59 L88.29,214.58 L88.55,214.58 L88.80,214.57 L89.06,214.56 L89.32,214.56 L89.57,214.55 L89.83,214.55 L90.09,214.54 L90.34,214.54 L90.59,214.53 L90.84,214.53 L91.09,214.52 L91.34,214.52 L91.59,214.51 L91.84,214.51 L92.09,214.50 L92.34,214.50 L92.59,214.49 L92.84,214.49 L93.09,214.48 L93.34,214.48 L93.60,214.48 L93.85,214.47 L94.10,214.47 L94.35,214.46 L94.60,214.46 L94.85,214.45 L95.10,214.45 L95.35,214.44 L95.60,214.44 L95.85,214.44 L96.10,214.43 L96.35,214.43 L96.60,214.42 L96.85,214.42 L97.10,214.42 L97.35,214.41 L97.60,214.41 L97.85,214.40 L98.10,214.40 L98.35,214.40 L98.60,214.39 L98.85,214.39 L99.10,214.38 L99.35,214.38 L99.60,214.38 L99.85,214.37 L100.10,214.37 L100.35,214.37 L100.60,214.36 L100.85,214.36 L101.10,214.35 L101.35,214.35 L101.61,214.35 L101.86,214.34 L102.11,214.34 L102.36,214.34 L102.61,214.33 L102.86,214.33 L103.11,214.33 L103.36,214.33 L103.61,214.32 L103.86,214.32 L104.11,214.32 L104.36,214.31 L104.61,214.31 L104.86,214.31 L105.11,214.30 L105.36,214.30 L105.61,214.30 L105.86,214.30 L106.12,214.29 L106.37,214.29 L106.62,214.29 L106.87,214.28 L107.12,214.28 L107.37,214.28 L107.62,214.28 L107.87,214.27 L108.12,214.27 L108.37,214.27 L108.62,214.27 L108.87,214.26 L109.12,214.26 L109.37,214.26 L109.63,214.26 L109.88,214.26 L110.13,214.25 L110.38,214.25 L110.63,214.25 L110.88,214.25 L111.13,214.25 L111.38,214.24 L111.63,214.24 L111.88,214.24 L112.13,214.24 L112.38,214.24 L112.63,214.23 L112.89,214.23 L113.14,214.23 L113.39,214.23 L113.64,214.23 L113.89,214.23 L114.14,214.22 L114.39,214.22 L114.64,214.22 L114.89,214.22 L115.14,214.22 L115.39,214.22 L115.65,214.21 L115.90,214.21 L116.15,214.21 L116.40,214.21 L116.65,214.21 L116.90,214.21 L117.15,214.21 L117.40,214.21 L117.65,214.21 L117.90,214.20 L118.15,214.20 L118.40,214.20 L118.66,214.20 L118.91,214.20 L119.16,214.20 L119.41,214.20 L119.66,214.20 L119.91,214.20 L120.16,214.20 L120.41,214.20 L120.66,214.20 L120.91,214.19 L121.17,214.19 L121.42,214.19 L121.67,214.19 L121.92,214.19 L122.17,214.19 L122.42,214.19 L122.67,214.19 L122.92,214.19 L123.17,214.19 L123.42,214.19 L123.67,214.19 L123.93,214.19 L124.18,214.19 L124.43,214.19 L124.68,214.19 L124.93,214.19 L125.18,214.19 L125.43,214.19 L125.68,214.19 L125.93,214.19 L126.18,214.19 L126.43,214.19 L126.69,214.19 L126.94,214.19 L127.19,214.19 L127.44,214.19 L127.69,214.19 L127.94,214.19 L128.19,214.19 L128.44,214.19 L128.69,214.19 L128.94,214.19 L129.20,214.20 L129.45,214.20 L129.70,214.20 L129.95,214.20 L130.20,214.20 L130.45,214.20 L130.70,214.20 L130.95,214.20 L131.20,214.20 L131.45,214.20 L131.70,214.20 L131.96,214.20 L132.21,214.21 L132.46,214.21 L132.71,214.21 L132.96,214.21 L133.21,214.21 L133.46,214.21 L133.71,214.21 L133.96,214.21 L134.21,214.22 L134.46,214.22 L134.72,214.22 L134.97,214.22 L135.22,214.22 L135.47,214.22 L135.72,214.22 L135.97,214.23 L136.22,214.23 L136.47,214.23 L136.72,214.23 L136.97,214.23 L137.22,214.23 L137.47,214.24 L137.73,214.24 L137.98,214.24 L138.23,214.24 L138.48,214.24 L138.73,214.25 L138.98,214.25 L139.23,214.25 L139.48,214.25 L139.73,214.25 L139.98,214.26 L140.23,214.26 L140.48,214.26 L140.73,214.26 L140.99,214.27 L141.24,214.27 L141.49,214.27 L141.74,214.27 L141.99,214.28 L142.24,214.28 L142.49,214.28 L142.74,214.28 L142.99,214.29 L143.24,214.29 L143.49,214.29 L143.74,214.29 L143.99,214.30 L144.24,214.30 L144.49,214.30 L144.75,214.31 L145.00,214.31 L145.25,214.31 L145.50,214.31 L145.75,214.32 L146.00,214.32 L146.25,214.32 L146.50,214.33 L146.75,214.33 L147.00,214.33 L147.25,214.34 L147.50,214.34 L147.75,214.34 L148.00,214.35 L148.25,214.35 L148.50,214.35 L148.75,214.36 L149.00,214.36 L149.26,214.36 L149.51,214.37 L149.76,214.37 L150.01,214.37 L150.26,214.38 L150.51,214.38 L150.76,214.39 L151.01,214.39 L151.26,214.39 L151.51,214.40 L151.76,214.40 L152.01,214.40 L152.26,214.41 L152.51,214.41 L152.76,214.42 L153.01,214.42 L153.26,214.43 L153.51,214.43 L153.76,214.43 L154.01,214.44 L154.26,214.44 L154.51,214.45 L154.76,214.45 L155.01,214.46 L155.26,214.46 L155.51,214.46 L155.76,214.47 L156.01,214.47 L156.26,214.48 L156.51,214.48 L156.76,214.49 L157.01,214.49 L157.26,214.50 L157.51,214.50 L157.76,214.51 L158.01,214.51 L158.26,214.52 L158.51,214.52 L158.76,214.53 L159.01,214.53 L159.26,214.54 L159.52,214.54 L159.78,214.55 L160.03,214.55 L160.29,214.56 L160.55,214.56 L160.80,214.57 L161.06,214.57 L161.32,214.58 L161.57,214.58 L161.83,214.59 L162.09,214.59 L162.34,214.60 L162.60,214.61 L162.86,214.61 L163.11,214.62 L163.37,214.62 L163.63,214.63 L163.88,214.63 L164.14,214.64 L164.39,214.65 L164.65,214.65 L164.91,214.66 L165.16,214.66 L165.42,214.67 L165.68,214.68 L165.93,214.68 L166.19,214.69 L166.44,214.69 L166.70,214.70 L166.96,214.71 L167.21,214.71 L167.47,214.72 L167.73,214.73 L167.98,214.73 L168.24,214.74 L168.49,214.75 L168.75,214.75 L169.01,214.76 L169.26,214.76 L169.52,214.77 L169.77,214.78 L170.03,214.78 L170.29,214.79 L170.54,214.80 L170.80,214.81 L171.05,214.81 L171.31,214.82 L171.57,214.83 L171.82,214.83 L172.08,214.84 L172.33,214.85 L172.59,214.85 L172.84,214.86 L173.10,214.87 L173.36,214.88 L173.61,214.88 L173.87,214.89 L174.12,214.90 L174.38,214.90 L174.63,214.91 L174.89,214.92 L175.15,214.93 L175.40,214.93 L175.66,214.94 L175.91,214.95 L176.17,214.96 L176.42,214.97 L176.68,214.97 L176.93,214.98 L177.19,214.99 L177.44,215.00 L177.70,215.00 L177.96,215.01 L178.21,215.02 L178.47,215.03 L178.72,215.04 L178.98,215.04 L179.23,215.05 L179.49,215.06 L179.74,215.07 L180.00,215.08 L180.25,215.08 L180.51,215.09 L180.76,215.10 L181.02,215.11 L181.27,215.12 L181.53,215.13 L181.78,215.13 L182.04,215.14 L182.29,215.15 L182.55,215.16 L182.80,215.17 L183.06,215.18 L183.31,215.19 L183.57,215.19 L183.82,215.20 L184.07,215.21 L184.33,215.22 L184.58,215.23 L184.84,215.24 L185.09,215.25 L185.35,215.26 L185.60,215.27 L185.86,215.27 L186.11,215.28 L186.37,215.29 L186.62,215.30 L186.87,215.31 L187.13,215.32 L187.38,215.33 L187.64,215.34 L187.89,215.35 L188.15,215.36 L188.40,215.37 L188.65,215.38 L188.91,215.39 L189.16,215.39 L189.42,215.40 L189.67,215.41 L189.93,215.42 L190.18,215.43 L190.43,215.44 L190.69,215.45 L190.94,215.46 L191.20,215.47 L191.45,215.48 L191.70,215.49 L191.96,215.50 L192.21,215.51 L192.46,215.52 L192.72,215.53 L192.97,215.54 L193.23,215.55 L193.48,215.56 L193.73,215.57 L193.99,215.58 L194.24,215.59 L194.49,215.60 L194.75,215.61 L195.00,215.62 L195.25,215.63 L195.51,215.64 L195.76,215.65 L196.01,215.67 L196.27,215.68 L196.52,215.69 L196.77,215.70 L197.03,215.71 L197.28,215.72 L197.53,215.73 L197.79,215.74 L198.04,215.75 L198.29,215.76 L198.55,215.77 L198.80,215.78 L199.05,215.79 L199.30,215.80 L199.56,215.82 L199.81,215.83 L200.06,215.84 L200.32,215.85 L200.57,215.86 L200.82,215.87 L201.07,215.88 L201.33,215.89 L201.58,215.90 L201.83,215.92 L202.08,215.93 L202.34,215.94 L202.59,215.95 L202.84,215.96 L203.09,215.97 L203.35,215.98 L203.60,216.00 L203.85,216.01 L204.10,216.02 L204.36,216.03 L204.61,216.04 L204.86,216.05 L205.11,216.07 L205.36,216.08 L205.62,216.09 L205.87,216.10 L206.12,216.11 L206.37,216.13 L206.62,216.14 L206.88,216.15 L207.13,216.16 L207.38,216.17 L207.63,216.19 L207.88,216.20 L208.14,216.21 L208.39,216.22 L208.64,216.23 L208.89,216.25 L209.14,216.26 L209.39,216.27 L209.64,216.28 L209.90,216.30 L210.15,216.31 L210.40,216.32 L210.65,216.33 L210.90,216.35 L211.15,216.36 L211.40,216.37 L211.66,216.38 L211.91,216.40 L212.16,216.41 L212.41,216.42 L212.66,216.43 L212.91,216.45 L213.16,216.46 L213.41,216.47 L213.66,216.49 L213.91,216.50 L214.16,216.51 L214.42,216.52 L214.67,216.54 L214.92,216.55 L215.17,216.56 L215.31,216.57" fill="none" stroke="#0808d0" stroke-width="2.1" stroke-linejoin="round" stroke-linecap="round"/>
<path d="M34.45,349.19 L34.69,349.15 L34.94,349.10 L35.19,349.06 L35.44,349.02 L35.69,348.98 L35.93,348.93 L36.18,348.89 L36.43,348.85 L36.68,348.80 L36.93,348.76 L37.17,348.72 L37.42,348.68 L37.67,348.63 L37.92,348.59 L38.17,348.55 L38.41,348.51 L38.66,348.46 L38.91,348.42 L39.16,348.38 L39.41,348.33 L39.65,348.29 L39.90,348.25 L40.15,348.21 L40.40,348.16 L40.65,348.12 L40.89,348.08 L41.14,348.04 L41.39,347.99 L41.64,347.95 L41.89,347.91 L42.14,347.87 L42.38,347.82 L42.63,347.78 L42.88,347.74 L43.13,347.70 L43.37,347.65 L43.62,347.61 L43.87,347.57 L44.12,347.53 L44.37,347.49 L44.62,347.44 L44.86,347.40 L45.11,347.36 L45.36,347.32 L45.61,347.28 L45.85,347.23 L46.10,347.19 L46.35,347.15 L46.60,347.11 L46.85,347.06 L47.10,347.02 L47.34,346.98 L47.59,346.94 L47.84,346.90 L48.09,346.86 L48.33,346.81 L48.58,346.77 L48.83,346.73 L49.08,346.69 L49.33,346.65 L49.58,346.61 L49.82,346.56 L50.07,346.52 L50.32,346.48 L50.57,346.44 L50.82,346.40 L51.07,346.36 L51.31,346.32 L51.56,346.27 L51.81,346.23 L52.06,346.19 L52.30,346.15 L52.55,346.11 L52.80,346.07 L53.05,346.03 L53.30,345.99 L53.55,345.94 L53.80,345.90 L54.04,345.86 L54.29,345.82 L54.54,345.78 L54.79,345.74 L55.04,345.70 L55.28,345.66 L55.53,345.62 L55.78,345.58 L56.03,345.54 L56.28,345.50 L56.52,345.46 L56.77,345.42 L57.02,345.37 L57.27,345.33 L57.52,345.29 L57.77,345.25 L58.02,345.21 L58.26,345.17 L58.51,345.13 L58.76,345.09 L59.01,345.05 L59.26,345.01 L59.51,344.97 L59.75,344.93 L60.00,344.89 L60.25,344.85 L60.50,344.81 L60.75,344.77 L61.00,344.73 L61.25,344.69 L61.49,344.66 L61.74,344.62 L61.99,344.58 L62.24,344.54 L62.48,344.50 L62.73,344.46 L62.98,344.42 L63.23,344.38 L63.48,344.34 L63.73,344.30 L63.98,344.26 L64.23,344.23 L64.47,344.19 L64.72,344.15 L64.97,344.11 L65.22,344.07 L65.47,344.03 L65.72,343.99 L65.97,343.96 L66.21,343.92 L66.46,343.88 L66.71,343.84 L66.96,343.80 L67.21,343.76 L67.46,343.73 L67.70,343.69 L67.95,343.65 L68.20,343.61 L68.45,343.58 L68.70,343.54 L68.95,343.50 L69.20,343.46 L69.45,343.43 L69.69,343.39 L69.94,343.35 L70.19,343.31 L70.44,343.28 L70.69,343.24 L70.94,343.20 L71.19,343.17 L71.43,343.13 L71.68,343.09 L71.93,343.06 L72.18,343.02 L72.43,342.98 L72.68,342.95 L72.93,342.91 L73.18,342.87 L73.42,342.84 L73.67,342.80 L73.92,342.77 L74.17,342.73 L74.42,342.70 L74.67,342.66 L74.92,342.62 L75.17,342.59 L75.41,342.55 L75.66,342.52 L75.91,342.48 L76.16,342.45 L76.41,342.41 L76.66,342.38 L76.91,342.34 L77.16,342.31 L77.41,342.28 L77.65,342.24 L77.90,342.21 L78.15,342.17 L78.40,342.14 L78.65,342.10 L78.90,342.07 L79.15,342.04 L79.40,342.00 L79.65,341.97 L79.90,341.94 L80.15,341.90 L80.39,341.87 L80.64,341.84 L80.89,341.80 L81.14,341.77 L81.39,341.74 L81.64,341.71 L81.89,341.67 L82.14,341.64 L82.39,341.61 L82.64,341.58 L82.89,341.54 L83.13,341.51 L83.38,341.48 L83.63,341.45 L83.88,341.42 L84.13,341.39 L84.38,341.35 L84.63,341.32 L84.88,341.29 L85.13,341.26 L85.38,341.23 L85.63,341.20 L85.88,341.17 L86.13,341.14 L86.38,341.11 L86.62,341.08 L86.87,341.05 L87.12,341.02 L87.37,340.99 L87.62,340.96 L87.87,340.93 L88.12,340.90 L88.37,340.87 L88.62,340.84 L88.87,340.81 L89.12,340.78 L89.37,340.76 L89.62,340.73 L89.87,340.70 L90.12,340.67 L90.37,340.64 L90.62,340.61 L90.87,340.59 L91.12,340.56 L91.37,340.53 L91.62,340.50 L91.87,340.48 L92.12,340.45 L92.37,340.42 L92.61,340.40 L92.86,340.37 L93.11,340.34 L93.37,340.32 L93.62,340.29 L93.86,340.27 L94.11,340.24 L94.36,340.21 L94.61,340.19 L94.86,340.16 L95.11,340.14 L95.36,340.11 L95.61,340.09 L95.86,340.06 L96.11,340.04 L96.36,340.02 L96.61,339.99 L96.86,339.97 L97.11,339.94 L97.36,339.92 L97.61,339.90 L97.86,339.87 L98.11,339.85 L98.36,339.83 L98.61,339.81 L98.86,339.78 L99.11,339.76 L99.36,339.74 L99.62,339.72 L99.87,339.69 L100.12,339.67 L100.37,339.65 L100.62,339.63 L100.86,339.61 L101.11,339.59 L101.37,339.57 L101.62,339.55 L101.87,339.53 L102.12,339.51 L102.37,339.49 L102.62,339.47 L102.87,339.45 L103.12,339.43 L103.37,339.41 L103.62,339.39 L103.87,339.37 L104.12,339.35 L104.37,339.33 L104.62,339.32 L104.87,339.30 L105.12,339.28 L105.37,339.26 L105.62,339.25 L105.87,339.23 L106.12,339.21 L106.38,339.20 L106.63,339.18 L106.88,339.16 L107.13,339.15 L107.38,339.13 L107.63,339.11 L107.88,339.10 L108.13,339.08 L108.38,339.07 L108.63,339.05 L108.88,339.04 L109.13,339.03 L109.38,339.01 L109.63,339.00 L109.89,338.98 L110.14,338.97 L110.39,338.96 L110.64,338.94 L110.89,338.93 L111.14,338.92 L111.39,338.90 L111.64,338.89 L111.89,338.88 L112.14,338.87 L112.39,338.86 L112.64,338.85 L112.89,338.83 L113.15,338.82 L113.40,338.81 L113.65,338.80 L113.90,338.79 L114.15,338.78 L114.40,338.77 L114.65,338.76 L114.90,338.75 L115.16,338.74 L115.41,338.73 L115.66,338.73 L115.91,338.72 L116.16,338.71 L116.41,338.70 L116.66,338.69 L116.91,338.69 L117.16,338.68 L117.41,338.67 L117.66,338.66 L117.91,338.66 L118.16,338.65 L118.42,338.65 L118.67,338.64 L118.92,338.63 L119.17,338.63 L119.42,338.62 L119.68,338.62 L119.93,338.61 L120.18,338.61 L120.43,338.60 L120.68,338.60 L120.93,338.60 L121.18,338.59 L121.44,338.59 L121.69,338.59 L121.94,338.58 L122.19,338.58 L122.44,338.58 L122.69,338.58 L122.94,338.57 L123.19,338.57 L123.44,338.57 L123.69,338.57 L123.95,338.57 L124.20,338.57 L124.45,338.57 L124.70,338.57 L124.95,338.57 L125.20,338.57 L125.45,338.57 L125.70,338.57 L125.95,338.57 L126.20,338.57 L126.46,338.57 L126.71,338.57 L126.96,338.58 L127.21,338.58 L127.46,338.58 L127.71,338.58 L127.96,338.59 L128.21,338.59 L128.46,338.59 L128.72,338.60 L128.97,338.60 L129.22,338.60 L129.47,338.61 L129.72,338.61 L129.97,338.62 L130.22,338.62 L130.48,338.63 L130.73,338.63 L130.98,338.64 L131.23,338.64 L131.48,338.65 L131.73,338.66 L131.99,338.66 L132.24,338.67 L132.49,338.68 L132.74,338.68 L132.99,338.69 L133.24,338.70 L133.49,338.71 L133.74,338.71 L133.99,338.72 L134.24,338.73 L134.49,338.74 L134.74,338.75 L134.99,338.76 L135.24,338.77 L135.50,338.78 L135.75,338.79 L136.00,338.80 L136.25,338.81 L136.50,338.82 L136.75,338.83 L137.01,338.84 L137.26,338.85 L137.51,338.86 L137.76,338.88 L138.01,338.89 L138.26,338.90 L138.51,338.91 L138.76,338.92 L139.01,338.94 L139.26,338.95 L139.51,338.96 L139.76,338.98 L140.01,338.99 L140.27,339.01 L140.52,339.02 L140.77,339.03 L141.02,339.05 L141.27,339.06 L141.52,339.08 L141.77,339.09 L142.02,339.11 L142.27,339.12 L142.52,339.14 L142.77,339.16 L143.02,339.17 L143.27,339.19 L143.53,339.21 L143.78,339.22 L144.03,339.24 L144.28,339.26 L144.53,339.27 L144.78,339.29 L145.03,339.31 L145.28,339.33 L145.53,339.35 L145.78,339.36 L146.03,339.38 L146.28,339.40 L146.53,339.42 L146.78,339.44 L147.03,339.46 L147.28,339.48 L147.53,339.50 L147.78,339.52 L148.03,339.54 L148.28,339.56 L148.53,339.58 L148.79,339.60 L149.03,339.62 L149.28,339.64 L149.53,339.66 L149.78,339.69 L150.03,339.71 L150.29,339.73 L150.54,339.75 L150.79,339.77 L151.04,339.80 L151.29,339.82 L151.54,339.84 L151.79,339.87 L152.04,339.89 L152.29,339.91 L152.54,339.93 L152.79,339.96 L153.04,339.98 L153.29,340.01 L153.54,340.03 L153.79,340.05 L154.04,340.08 L154.29,340.10 L154.54,340.13 L154.79,340.15 L155.04,340.18 L155.29,340.20 L155.54,340.23 L155.79,340.26 L156.04,340.28 L156.29,340.31 L156.54,340.33 L156.79,340.36 L157.04,340.39 L157.29,340.41 L157.54,340.44 L157.79,340.47 L158.04,340.49 L158.29,340.52 L158.54,340.55 L158.79,340.58 L159.04,340.60 L159.29,340.63 L159.54,340.66 L159.79,340.69 L160.03,340.72 L160.28,340.74 L160.53,340.77 L160.78,340.80 L161.04,340.83 L161.28,340.86 L161.53,340.89 L161.78,340.92 L162.03,340.95 L162.28,340.98 L162.53,341.01 L162.78,341.04 L163.03,341.07 L163.28,341.10 L163.53,341.13 L163.78,341.16 L164.03,341.19 L164.28,341.22 L164.53,341.25 L164.78,341.28 L165.03,341.31 L165.27,341.34 L165.52,341.37 L165.77,341.41 L166.02,341.44 L166.27,341.47 L166.52,341.50 L166.77,341.53 L167.02,341.56 L167.27,341.60 L167.52,341.63 L167.77,341.66 L168.02,341.69 L168.27,341.73 L168.52,341.76 L168.76,341.79 L169.01,341.82 L169.26,341.86 L169.51,341.89 L169.76,341.92 L170.01,341.96 L170.26,341.99 L170.51,342.02 L170.76,342.06 L171.01,342.09 L171.26,342.13 L171.50,342.16 L171.75,342.19 L172.00,342.23 L172.25,342.26 L172.50,342.30 L172.75,342.33 L173.00,342.37 L173.25,342.40 L173.50,342.44 L173.75,342.47 L174.00,342.51 L174.24,342.54 L174.49,342.58 L174.74,342.61 L174.99,342.65 L175.24,342.68 L175.49,342.72 L175.74,342.75 L175.99,342.79 L176.24,342.83 L176.48,342.86 L176.73,342.90 L176.98,342.93 L177.23,342.97 L177.48,343.01 L177.73,343.04 L177.98,343.08 L178.22,343.12 L178.47,343.15 L178.72,343.19 L178.97,343.23 L179.22,343.26 L179.47,343.30 L179.72,343.34 L179.97,343.37 L180.21,343.41 L180.46,343.45 L180.71,343.49 L180.96,343.52 L181.21,343.56 L181.46,343.60 L181.71,343.64 L181.96,343.67 L182.20,343.71 L182.45,343.75 L182.70,343.79 L182.95,343.83 L183.20,343.86 L183.45,343.90 L183.70,343.94 L183.94,343.98 L184.19,344.02 L184.44,344.06 L184.69,344.10 L184.94,344.13 L185.19,344.17 L185.44,344.21 L185.68,344.25 L185.93,344.29 L186.18,344.33 L186.43,344.37 L186.68,344.41 L186.93,344.44 L187.18,344.48 L187.42,344.52 L187.67,344.56 L187.92,344.60 L188.17,344.64 L188.41,344.68 L188.66,344.72 L188.91,344.76 L189.16,344.80 L189.41,344.84 L189.66,344.88 L189.90,344.92 L190.15,344.96 L190.40,345.00 L190.65,345.04 L190.90,345.08 L191.15,345.12 L191.39,345.16 L191.64,345.20 L191.89,345.24 L192.14,345.28 L192.39,345.32 L192.63,345.36 L192.88,345.40 L193.13,345.44 L193.38,345.48 L193.63,345.52 L193.88,345.56 L194.12,345.60 L194.37,345.64 L194.62,345.68 L194.87,345.72 L195.12,345.77 L195.37,345.81 L195.61,345.85 L195.86,345.89 L196.11,345.93 L196.36,345.97 L196.61,346.01 L196.86,346.05 L197.10,346.09 L197.35,346.14 L197.60,346.18 L197.85,346.22 L198.10,346.26 L198.34,346.30 L198.59,346.34 L198.84,346.38 L199.09,346.42 L199.34,346.47 L199.59,346.51 L199.83,346.55 L200.08,346.59 L200.33,346.63 L200.58,346.67 L200.83,346.72 L201.07,346.76 L201.32,346.80 L201.57,346.84 L201.82,346.88 L202.07,346.92 L202.31,346.97 L202.56,347.01 L202.81,347.05 L203.06,347.09 L203.31,347.13 L203.56,347.18 L203.80,347.22 L204.05,347.26 L204.30,347.30 L204.55,347.34 L204.79,347.39 L205.04,347.43 L205.29,347.47 L205.54,347.51 L205.79,347.55 L206.04,347.60 L206.29,347.64 L206.53,347.68 L206.78,347.72 L207.03,347.77 L207.27,347.81 L207.52,347.85 L207.77,347.89 L208.02,347.94 L208.27,347.98 L208.52,348.02 L208.77,348.06 L209.01,348.11 L209.26,348.15 L209.51,348.19 L209.76,348.23 L210.00,348.28 L210.25,348.32 L210.50,348.36 L210.75,348.40 L211.00,348.45 L211.25,348.49 L211.49,348.53 L211.74,348.57 L211.99,348.62 L212.24,348.66 L212.48,348.70 L212.73,348.75 L212.98,348.79 L213.23,348.83 L213.48,348.87 L213.73,348.92 L213.98,348.96 L214.22,349.00 L214.47,349.05 L214.72,349.09 L214.97,349.13 L215.22,349.17 L215.30,349.19" fill="none" stroke="#0808d0" stroke-width="2.1" stroke-linejoin="round" stroke-linecap="round"/>
<circle cx="124.88" cy="338.57" r="1.75" fill="#d4121f"/>
<rect x="25.40" y="207.44" width="198.95" height="148.5" fill="none" stroke="#505050" stroke-width="1.1"/>
<line x1="34.44" y1="355.94" x2="34.44" y2="358.34" stroke="#3a3a3a" stroke-width="0.8"/>
<text transform="translate(22.71,366.04) scale(1.075,1)" font-size="8.6">−</text><text transform="translate(29.07,366.04) scale(0.956,1)" font-size="8.6">0</text><text transform="translate(33.90,366.04) scale(0.981,1)" font-size="8.6">.</text><text transform="translate(36.57,366.04) scale(0.913,1)" font-size="8.6">1</text><text transform="translate(41.47,366.04) scale(0.956,1)" font-size="8.6">0</text>
<line x1="79.66" y1="355.94" x2="79.66" y2="358.34" stroke="#3a3a3a" stroke-width="0.8"/>
<text transform="translate(68.01,366.04) scale(1.075,1)" font-size="8.6">−</text><text transform="translate(74.36,366.04) scale(0.956,1)" font-size="8.6">0</text><text transform="translate(79.20,366.04) scale(0.981,1)" font-size="8.6">.</text><text transform="translate(81.81,366.04) scale(0.956,1)" font-size="8.6">0</text><text transform="translate(86.87,366.04) scale(0.902,1)" font-size="8.6">5</text>
<line x1="124.88" y1="355.94" x2="124.88" y2="358.34" stroke="#3a3a3a" stroke-width="0.8"/>
<text transform="translate(116.39,366.04) scale(0.956,1)" font-size="8.6">0</text><text transform="translate(121.22,366.04) scale(0.981,1)" font-size="8.6">.</text><text transform="translate(123.83,366.04) scale(0.956,1)" font-size="8.6">0</text><text transform="translate(128.79,366.04) scale(0.956,1)" font-size="8.6">0</text>
<line x1="170.09" y1="355.94" x2="170.09" y2="358.34" stroke="#3a3a3a" stroke-width="0.8"/>
<text transform="translate(161.68,366.04) scale(0.956,1)" font-size="8.6">0</text><text transform="translate(166.52,366.04) scale(0.981,1)" font-size="8.6">.</text><text transform="translate(169.13,366.04) scale(0.956,1)" font-size="8.6">0</text><text transform="translate(174.19,366.04) scale(0.902,1)" font-size="8.6">5</text>
<line x1="215.31" y1="355.94" x2="215.31" y2="358.34" stroke="#3a3a3a" stroke-width="0.8"/>
<text transform="translate(206.82,366.04) scale(0.956,1)" font-size="8.6">0</text><text transform="translate(211.65,366.04) scale(0.981,1)" font-size="8.6">.</text><text transform="translate(214.33,366.04) scale(0.913,1)" font-size="8.6">1</text><text transform="translate(219.22,366.04) scale(0.956,1)" font-size="8.6">0</text>
<line x1="23.00" y1="338.57" x2="25.40" y2="338.57" stroke="#3a3a3a" stroke-width="0.8"/>
<text transform="translate(9.26,341.77) scale(0.956,1)" font-size="8.6">0</text><text transform="translate(14.09,341.77) scale(0.981,1)" font-size="8.6">.</text><text transform="translate(16.70,341.77) scale(0.956,1)" font-size="8.6">0</text>
<line x1="23.00" y1="307.47" x2="25.40" y2="307.47" stroke="#3a3a3a" stroke-width="0.8"/>
<text transform="translate(9.42,310.67) scale(0.956,1)" font-size="8.6">0</text><text transform="translate(14.25,310.67) scale(0.981,1)" font-size="8.6">.</text><text transform="translate(16.96,310.67) scale(0.902,1)" font-size="8.6">5</text>
<line x1="23.00" y1="276.38" x2="25.40" y2="276.38" stroke="#3a3a3a" stroke-width="0.8"/>
<text transform="translate(9.32,279.58) scale(0.913,1)" font-size="8.6">1</text><text transform="translate(14.09,279.58) scale(0.981,1)" font-size="8.6">.</text><text transform="translate(16.70,279.58) scale(0.956,1)" font-size="8.6">0</text>
<line x1="23.00" y1="245.28" x2="25.40" y2="245.28" stroke="#3a3a3a" stroke-width="0.8"/>
<text transform="translate(9.49,248.48) scale(0.913,1)" font-size="8.6">1</text><text transform="translate(14.25,248.48) scale(0.981,1)" font-size="8.6">.</text><text transform="translate(16.96,248.48) scale(0.902,1)" font-size="8.6">5</text>
<line x1="23.00" y1="214.19" x2="25.40" y2="214.19" stroke="#3a3a3a" stroke-width="0.8"/>
<text transform="translate(9.24,217.39) scale(0.922,1)" font-size="8.6">2</text><text transform="translate(14.09,217.39) scale(0.981,1)" font-size="8.6">.</text><text transform="translate(16.70,217.39) scale(0.956,1)" font-size="8.6">0</text>
<text x="124.88" y="203.84" font-size="8.9" text-anchor="middle" style="stroke-width:0.22px" textLength="67.9" lengthAdjust="spacingAndGlyphs"><tspan font-style="italic">p</tspan> = 2, <tspan font-style="italic">g</tspan>/<tspan font-style="italic">B</tspan> = 1.0</text>
<text style="stroke-width:0.22px" font-style="italic"><tspan x="116.38" y="374.74" font-size="8.5">k</tspan><tspan x="121.33" y="376.54" font-size="6.5" font-style="normal">2</tspan><tspan x="124.58" y="375.44" font-size="9.0" font-style="normal">/</tspan><tspan x="128.78" y="374.74" font-size="7.6">π</tspan></text>
<text transform="translate(232.65,282.09) rotate(-90)" x="0" y="0" font-size="9.0" text-anchor="middle" style="stroke-width:0.4px" textLength="13.4" lengthAdjust="spacingAndGlyphs" font-style="italic">E/B</text>
<text x="5.60" y="206.09" font-size="6.5" textLength="9.33" lengthAdjust="spacingAndGlyphs" style="stroke-width:0.2px">(c)</text>
<path d="M348.55,216.66 L348.80,216.65 L349.06,216.64 L349.32,216.62 L349.57,216.61 L349.83,216.59 L350.09,216.58 L350.35,216.57 L350.60,216.55 L350.86,216.54 L351.12,216.53 L351.38,216.51 L351.63,216.50 L351.89,216.48 L352.15,216.47 L352.41,216.46 L352.67,216.44 L352.92,216.43 L353.18,216.42 L353.44,216.40 L353.70,216.39 L353.95,216.38 L354.21,216.36 L354.47,216.35 L354.73,216.34 L354.99,216.32 L355.24,216.31 L355.50,216.30 L355.76,216.28 L356.02,216.27 L356.28,216.26 L356.53,216.25 L356.79,216.23 L357.05,216.22 L357.31,216.21 L357.57,216.20 L357.83,216.18 L358.08,216.17 L358.34,216.16 L358.60,216.14 L358.86,216.13 L359.12,216.12 L359.38,216.11 L359.63,216.09 L359.89,216.08 L360.15,216.07 L360.41,216.06 L360.67,216.05 L360.93,216.03 L361.19,216.02 L361.44,216.01 L361.70,216.00 L361.95,215.98 L362.20,215.97 L362.45,215.96 L362.70,215.95 L362.95,215.94 L363.20,215.93 L363.45,215.92 L363.70,215.90 L363.95,215.89 L364.20,215.88 L364.45,215.87 L364.70,215.86 L364.95,215.85 L365.20,215.84 L365.45,215.83 L365.70,215.81 L365.95,215.80 L366.20,215.79 L366.45,215.78 L366.70,215.77 L366.95,215.76 L367.20,215.75 L367.45,215.74 L367.70,215.73 L367.95,215.72 L368.20,215.71 L368.45,215.69 L368.70,215.68 L368.95,215.67 L369.20,215.66 L369.46,215.65 L369.71,215.64 L369.96,215.63 L370.21,215.62 L370.46,215.61 L370.71,215.60 L370.96,215.59 L371.21,215.58 L371.46,215.57 L371.71,215.56 L371.96,215.55 L372.21,215.54 L372.46,215.53 L372.71,215.52 L372.96,215.51 L373.21,215.50 L373.46,215.49 L373.71,215.48 L373.97,215.47 L374.22,215.46 L374.47,215.45 L374.72,215.44 L374.97,215.43 L375.22,215.42 L375.47,215.41 L375.72,215.40 L375.97,215.39 L376.22,215.38 L376.47,215.37 L376.72,215.36 L376.98,215.35 L377.23,215.34 L377.48,215.33 L377.73,215.33 L377.98,215.32 L378.23,215.31 L378.48,215.30 L378.73,215.29 L378.98,215.28 L379.24,215.27 L379.49,215.26 L379.74,215.25 L379.99,215.24 L380.24,215.23 L380.49,215.22 L380.74,215.22 L380.99,215.21 L381.25,215.20 L381.50,215.19 L381.75,215.18 L382.00,215.17 L382.25,215.16 L382.50,215.16 L382.75,215.15 L383.00,215.14 L383.26,215.13 L383.51,215.12 L383.76,215.11 L384.01,215.10 L384.26,215.10 L384.51,215.09 L384.76,215.08 L385.02,215.07 L385.27,215.06 L385.52,215.05 L385.77,215.05 L386.02,215.04 L386.27,215.03 L386.53,215.02 L386.78,215.01 L387.03,215.01 L387.28,215.00 L387.53,214.99 L387.78,214.98 L388.04,214.98 L388.29,214.97 L388.54,214.96 L388.79,214.95 L389.04,214.94 L389.29,214.94 L389.55,214.93 L389.80,214.92 L390.05,214.91 L390.30,214.91 L390.55,214.90 L390.81,214.89 L391.06,214.88 L391.31,214.88 L391.56,214.87 L391.81,214.86 L392.07,214.86 L392.32,214.85 L392.57,214.84 L392.82,214.83 L393.07,214.83 L393.32,214.82 L393.58,214.81 L393.83,214.81 L394.08,214.80 L394.33,214.79 L394.59,214.79 L394.84,214.78 L395.09,214.77 L395.34,214.77 L395.59,214.76 L395.85,214.75 L396.10,214.75 L396.35,214.74 L396.60,214.73 L396.85,214.73 L397.11,214.72 L397.36,214.71 L397.61,214.71 L397.86,214.70 L398.12,214.70 L398.37,214.69 L398.62,214.68 L398.87,214.68 L399.12,214.67 L399.38,214.66 L399.63,214.66 L399.88,214.65 L400.13,214.65 L400.39,214.64 L400.64,214.63 L400.89,214.63 L401.14,214.62 L401.40,214.62 L401.65,214.61 L401.90,214.61 L402.15,214.60 L402.41,214.59 L402.66,214.59 L402.91,214.58 L403.16,214.58 L403.42,214.57 L403.67,214.57 L403.92,214.56 L404.17,214.56 L404.43,214.55 L404.68,214.55 L404.93,214.54 L405.18,214.54 L405.44,214.53 L405.69,214.53 L405.94,214.52 L406.19,214.52 L406.45,214.51 L406.70,214.51 L406.95,214.50 L407.20,214.50 L407.46,214.49 L407.71,214.49 L407.96,214.48 L408.21,214.48 L408.47,214.47 L408.72,214.47 L408.97,214.46 L409.22,214.46 L409.48,214.45 L409.73,214.45 L409.98,214.44 L410.24,214.44 L410.49,214.44 L410.74,214.43 L410.99,214.43 L411.25,214.42 L411.50,214.42 L411.75,214.41 L412.00,214.41 L412.26,214.41 L412.51,214.40 L412.76,214.40 L413.02,214.39 L413.27,214.39 L413.52,214.39 L413.77,214.38 L414.03,214.38 L414.28,214.37 L414.53,214.37 L414.79,214.37 L415.04,214.36 L415.29,214.36 L415.54,214.36 L415.80,214.35 L416.05,214.35 L416.30,214.35 L416.56,214.34 L416.81,214.34 L417.06,214.34 L417.32,214.33 L417.57,214.33 L417.82,214.33 L418.07,214.32 L418.33,214.32 L418.58,214.32 L418.83,214.31 L419.09,214.31 L419.34,214.31 L419.59,214.30 L419.84,214.30 L420.10,214.30 L420.35,214.29 L420.60,214.29 L420.86,214.29 L421.11,214.29 L421.36,214.28 L421.62,214.28 L421.87,214.28 L422.12,214.28 L422.38,214.27 L422.63,214.27 L422.88,214.27 L423.13,214.27 L423.39,214.26 L423.64,214.26 L423.89,214.26 L424.15,214.26 L424.40,214.25 L424.65,214.25 L424.91,214.25 L425.16,214.25 L425.41,214.25 L425.67,214.24 L425.92,214.24 L426.17,214.24 L426.42,214.24 L426.68,214.24 L426.93,214.23 L427.18,214.23 L427.44,214.23 L427.69,214.23 L427.94,214.23 L428.20,214.23 L428.45,214.22 L428.70,214.22 L428.96,214.22 L429.21,214.22 L429.46,214.22 L429.72,214.22 L429.97,214.21 L430.22,214.21 L430.47,214.21 L430.73,214.21 L430.98,214.21 L431.23,214.21 L431.49,214.21 L431.74,214.21 L431.99,214.20 L432.25,214.20 L432.50,214.20 L432.75,214.20 L433.01,214.20 L433.26,214.20 L433.51,214.20 L433.77,214.20 L434.02,214.20 L434.27,214.20 L434.53,214.20 L434.78,214.20 L435.03,214.19 L435.29,214.19 L435.54,214.19 L435.79,214.19 L436.05,214.19 L436.30,214.19 L436.55,214.19 L436.80,214.19 L437.06,214.19 L437.31,214.19 L437.56,214.19 L437.82,214.19 L438.07,214.19 L438.32,214.19 L438.58,214.19 L438.83,214.19 L439.08,214.19 L439.34,214.19 L439.59,214.19 L439.84,214.19 L440.10,214.19 L440.35,214.19 L440.60,214.19 L440.86,214.19 L441.11,214.19 L441.36,214.19 L441.62,214.19 L441.87,214.19 L442.12,214.19 L442.38,214.19 L442.63,214.19 L442.88,214.19 L443.13,214.20 L443.39,214.20 L443.64,214.20 L443.89,214.20 L444.15,214.20 L444.40,214.20 L444.65,214.20 L444.91,214.20 L445.16,214.20 L445.41,214.20 L445.67,214.20 L445.92,214.20 L446.17,214.21 L446.43,214.21 L446.68,214.21 L446.93,214.21 L447.19,214.21 L447.44,214.21 L447.69,214.21 L447.95,214.21 L448.20,214.22 L448.45,214.22 L448.70,214.22 L448.96,214.22 L449.21,214.22 L449.46,214.22 L449.72,214.22 L449.97,214.23 L450.22,214.23 L450.48,214.23 L450.73,214.23 L450.98,214.23 L451.24,214.24 L451.49,214.24 L451.74,214.24 L452.00,214.24 L452.25,214.24 L452.50,214.25 L452.75,214.25 L453.01,214.25 L453.26,214.25 L453.51,214.25 L453.77,214.26 L454.02,214.26 L454.27,214.26 L454.53,214.26 L454.78,214.27 L455.03,214.27 L455.29,214.27 L455.54,214.27 L455.79,214.28 L456.04,214.28 L456.30,214.28 L456.55,214.28 L456.80,214.29 L457.06,214.29 L457.31,214.29 L457.56,214.29 L457.82,214.30 L458.07,214.30 L458.32,214.30 L458.57,214.31 L458.83,214.31 L459.08,214.31 L459.33,214.32 L459.59,214.32 L459.84,214.32 L460.09,214.32 L460.35,214.33 L460.60,214.33 L460.85,214.33 L461.10,214.34 L461.36,214.34 L461.61,214.35 L461.86,214.35 L462.12,214.35 L462.37,214.36 L462.62,214.36 L462.87,214.36 L463.13,214.37 L463.38,214.37 L463.63,214.37 L463.89,214.38 L464.14,214.38 L464.39,214.39 L464.64,214.39 L464.90,214.39 L465.15,214.40 L465.40,214.40 L465.66,214.41 L465.91,214.41 L466.16,214.41 L466.41,214.42 L466.67,214.42 L466.92,214.43 L467.17,214.43 L467.43,214.43 L467.68,214.44 L467.93,214.44 L468.18,214.45 L468.44,214.45 L468.69,214.46 L468.94,214.46 L469.19,214.47 L469.45,214.47 L469.70,214.48 L469.95,214.48 L470.21,214.49 L470.46,214.49 L470.71,214.49 L470.96,214.50 L471.22,214.50 L471.47,214.51 L471.72,214.51 L471.97,214.52 L472.23,214.52 L472.48,214.53 L472.73,214.53 L472.98,214.54 L473.24,214.55 L473.49,214.55 L473.74,214.56 L473.99,214.56 L474.25,214.57 L474.50,214.57 L474.75,214.58 L475.00,214.58 L475.26,214.59 L475.51,214.59 L475.76,214.60 L476.01,214.61 L476.27,214.61 L476.52,214.62 L476.77,214.62 L477.02,214.63 L477.28,214.63 L477.53,214.64 L477.78,214.65 L478.03,214.65 L478.28,214.66 L478.54,214.66 L478.79,214.67 L479.04,214.68 L479.29,214.68 L479.55,214.69 L479.80,214.69 L480.05,214.70 L480.30,214.71 L480.56,214.71 L480.81,214.72 L481.06,214.73 L481.31,214.73 L481.56,214.74 L481.82,214.75 L482.07,214.75 L482.32,214.76 L482.57,214.77 L482.82,214.77 L483.08,214.78 L483.33,214.79 L483.58,214.79 L483.83,214.80 L484.09,214.81 L484.34,214.81 L484.59,214.82 L484.84,214.83 L485.09,214.83 L485.35,214.84 L485.60,214.85 L485.85,214.85 L486.10,214.86 L486.35,214.87 L486.60,214.88 L486.86,214.88 L487.11,214.89 L487.36,214.90 L487.61,214.91 L487.86,214.91 L488.12,214.92 L488.37,214.93 L488.62,214.94 L488.87,214.94 L489.12,214.95 L489.37,214.96 L489.63,214.97 L489.88,214.97 L490.13,214.98 L490.38,214.99 L490.63,215.00 L490.89,215.01 L491.14,215.01 L491.39,215.02 L491.64,215.03 L491.89,215.04 L492.14,215.05 L492.39,215.05 L492.65,215.06 L492.90,215.07 L493.15,215.08 L493.40,215.09 L493.65,215.09 L493.90,215.10 L494.16,215.11 L494.41,215.12 L494.66,215.13 L494.91,215.14 L495.16,215.15 L495.41,215.15 L495.66,215.16 L495.91,215.17 L496.17,215.18 L496.42,215.19 L496.67,215.20 L496.92,215.21 L497.17,215.21 L497.42,215.22 L497.67,215.23 L497.93,215.24 L498.18,215.25 L498.43,215.26 L498.68,215.27 L498.93,215.28 L499.18,215.29 L499.43,215.30 L499.68,215.31 L499.93,215.31 L500.19,215.32 L500.44,215.33 L500.69,215.34 L500.94,215.35 L501.19,215.36 L501.44,215.37 L501.69,215.38 L501.94,215.39 L502.19,215.40 L502.44,215.41 L502.69,215.42 L502.95,215.43 L503.20,215.44 L503.45,215.45 L503.70,215.46 L503.95,215.47 L504.20,215.48 L504.45,215.49 L504.70,215.50 L504.95,215.51 L505.20,215.52 L505.45,215.53 L505.70,215.54 L505.95,215.55 L506.20,215.56 L506.46,215.57 L506.71,215.58 L506.96,215.59 L507.21,215.60 L507.46,215.61 L507.71,215.62 L507.96,215.63 L508.21,215.64 L508.46,215.65 L508.71,215.66 L508.96,215.67 L509.21,215.68 L509.46,215.69 L509.71,215.70 L509.96,215.71 L510.21,215.73 L510.46,215.74 L510.71,215.75 L510.96,215.76 L511.21,215.77 L511.46,215.78 L511.71,215.79 L511.96,215.80 L512.21,215.81 L512.46,215.82 L512.71,215.84 L512.96,215.85 L513.21,215.86 L513.46,215.87 L513.71,215.88 L513.96,215.89 L514.21,215.90 L514.46,215.91 L514.71,215.93 L514.96,215.94 L515.21,215.95 L515.46,215.96 L515.71,215.97 L515.96,215.98 L516.21,215.99 L516.47,216.01 L516.73,216.02 L516.99,216.03 L517.25,216.04 L517.50,216.06 L517.76,216.07 L518.02,216.08 L518.28,216.09 L518.54,216.11 L518.80,216.12 L519.06,216.13 L519.31,216.14 L519.57,216.16 L519.83,216.17 L520.09,216.18 L520.35,216.19 L520.61,216.21 L520.86,216.22 L521.12,216.23 L521.38,216.24 L521.64,216.26 L521.90,216.27 L522.15,216.28 L522.41,216.30 L522.67,216.31 L522.93,216.32 L523.19,216.34 L523.44,216.35 L523.70,216.36 L523.96,216.38 L524.22,216.39 L524.48,216.40 L524.73,216.41 L524.99,216.43 L525.25,216.44 L525.51,216.46 L525.76,216.47 L526.02,216.48 L526.28,216.50 L526.54,216.51 L526.79,216.52 L527.05,216.54 L527.31,216.55 L527.57,216.56 L527.82,216.58 L528.08,216.59 L528.34,216.61 L528.60,216.62 L528.85,216.63 L529.11,216.65 L529.37,216.66 L529.40,216.66" fill="none" stroke="#0808d0" stroke-width="2.1" stroke-linejoin="round" stroke-linecap="round"/>
<path d="M348.54,349.19 L348.79,349.13 L349.04,349.07 L349.28,349.01 L349.53,348.95 L349.77,348.89 L350.02,348.83 L350.26,348.77 L350.51,348.71 L350.75,348.65 L350.99,348.59 L351.24,348.53 L351.49,348.47 L351.74,348.41 L351.98,348.35 L352.23,348.29 L352.47,348.23 L352.72,348.17 L352.96,348.11 L353.21,348.05 L353.45,347.99 L353.70,347.93 L353.94,347.87 L354.18,347.81 L354.43,347.74 L354.68,347.68 L354.92,347.62 L355.17,347.56 L355.41,347.50 L355.66,347.44 L355.90,347.37 L356.15,347.31 L356.39,347.25 L356.63,347.19 L356.88,347.13 L357.12,347.07 L357.37,347.01 L357.61,346.94 L357.86,346.88 L358.10,346.82 L358.35,346.76 L358.59,346.69 L358.84,346.63 L359.08,346.57 L359.33,346.51 L359.57,346.45 L359.81,346.38 L360.06,346.32 L360.30,346.26 L360.55,346.19 L360.79,346.13 L361.04,346.07 L361.28,346.00 L361.53,345.94 L361.77,345.88 L362.01,345.82 L362.26,345.75 L362.50,345.69 L362.74,345.63 L362.99,345.56 L363.23,345.50 L363.48,345.43 L363.72,345.37 L363.97,345.31 L364.21,345.24 L364.45,345.18 L364.70,345.12 L364.94,345.05 L365.18,344.99 L365.43,344.92 L365.67,344.86 L365.92,344.79 L366.16,344.73 L366.40,344.66 L366.65,344.60 L366.89,344.54 L367.13,344.47 L367.38,344.41 L367.62,344.34 L367.87,344.27 L368.11,344.21 L368.36,344.14 L368.60,344.08 L368.84,344.01 L369.08,343.95 L369.32,343.88 L369.57,343.82 L369.81,343.75 L370.06,343.69 L370.30,343.62 L370.55,343.55 L370.79,343.49 L371.03,343.42 L371.27,343.36 L371.52,343.29 L371.76,343.22 L372.01,343.15 L372.25,343.09 L372.49,343.02 L372.74,342.95 L372.98,342.89 L373.22,342.82 L373.47,342.75 L373.71,342.69 L373.95,342.62 L374.20,342.55 L374.44,342.48 L374.68,342.42 L374.92,342.35 L375.17,342.28 L375.41,342.21 L375.65,342.14 L375.90,342.08 L376.14,342.01 L376.38,341.94 L376.62,341.87 L376.87,341.80 L377.11,341.74 L377.35,341.67 L377.60,341.60 L377.84,341.53 L378.08,341.46 L378.32,341.39 L378.56,341.32 L378.81,341.25 L379.05,341.18 L379.30,341.11 L379.54,341.04 L379.78,340.97 L380.02,340.91 L380.26,340.84 L380.50,340.77 L380.75,340.70 L380.99,340.63 L381.23,340.56 L381.47,340.49 L381.71,340.42 L381.96,340.34 L382.20,340.27 L382.44,340.20 L382.69,340.13 L382.93,340.06 L383.17,339.99 L383.41,339.92 L383.65,339.85 L383.90,339.78 L384.14,339.70 L384.38,339.63 L384.62,339.56 L384.86,339.49 L385.10,339.42 L385.34,339.35 L385.59,339.27 L385.83,339.20 L386.07,339.13 L386.31,339.06 L386.55,338.98 L386.79,338.91 L387.03,338.84 L387.27,338.77 L387.51,338.69 L387.76,338.62 L388.00,338.55 L388.24,338.47 L388.48,338.40 L388.72,338.33 L388.96,338.25 L389.20,338.18 L389.44,338.11 L389.68,338.03 L389.92,337.96 L390.17,337.88 L390.41,337.81 L390.65,337.73 L390.89,337.66 L391.13,337.58 L391.37,337.51 L391.61,337.43 L391.85,337.36 L392.09,337.28 L392.33,337.21 L392.57,337.13 L392.81,337.06 L393.05,336.98 L393.29,336.90 L393.53,336.83 L393.77,336.75 L394.01,336.68 L394.25,336.60 L394.49,336.52 L394.73,336.45 L394.97,336.37 L395.21,336.29 L395.45,336.21 L395.69,336.14 L395.93,336.06 L396.17,335.98 L396.41,335.90 L396.65,335.83 L396.88,335.75 L397.12,335.67 L397.36,335.59 L397.60,335.51 L397.84,335.44 L398.08,335.36 L398.32,335.28 L398.56,335.20 L398.80,335.12 L399.03,335.04 L399.27,334.96 L399.51,334.88 L399.75,334.80 L399.99,334.72 L400.22,334.64 L400.46,334.56 L400.70,334.48 L400.94,334.40 L401.18,334.32 L401.42,334.24 L401.65,334.16 L401.89,334.08 L402.13,333.99 L402.37,333.91 L402.61,333.83 L402.85,333.75 L403.08,333.67 L403.32,333.58 L403.56,333.50 L403.80,333.42 L404.03,333.34 L404.27,333.25 L404.51,333.17 L404.75,333.09 L404.98,333.00 L405.22,332.92 L405.46,332.83 L405.69,332.75 L405.93,332.67 L406.17,332.58 L406.41,332.50 L406.64,332.41 L406.88,332.33 L407.11,332.24 L407.35,332.16 L407.59,332.07 L407.82,331.98 L408.06,331.90 L408.30,331.81 L408.53,331.72 L408.77,331.64 L409.00,331.55 L409.24,331.46 L409.47,331.38 L409.71,331.29 L409.95,331.20 L410.18,331.11 L410.42,331.02 L410.65,330.93 L410.89,330.85 L411.12,330.76 L411.36,330.67 L411.59,330.58 L411.83,330.49 L412.06,330.40 L412.30,330.31 L412.53,330.22 L412.76,330.13 L413.00,330.04 L413.23,329.94 L413.47,329.85 L413.70,329.76 L413.93,329.67 L414.17,329.58 L414.40,329.48 L414.63,329.39 L414.87,329.30 L415.10,329.21 L415.33,329.11 L415.57,329.02 L415.80,328.92 L416.03,328.83 L416.27,328.73 L416.50,328.64 L416.73,328.54 L416.96,328.45 L417.19,328.35 L417.43,328.26 L417.66,328.16 L417.89,328.06 L418.12,327.97 L418.35,327.87 L418.58,327.77 L418.82,327.67 L419.05,327.57 L419.28,327.47 L419.51,327.38 L419.74,327.28 L419.97,327.18 L420.20,327.08 L420.43,326.97 L420.66,326.87 L420.89,326.77 L421.12,326.67 L421.34,326.57 L421.57,326.47 L421.80,326.36 L422.03,326.26 L422.26,326.16 L422.49,326.05 L422.71,325.95 L422.94,325.84 L423.17,325.74 L423.40,325.63 L423.63,325.52 L423.85,325.42 L424.08,325.31 L424.31,325.20 L424.53,325.09 L424.76,324.98 L424.98,324.87 L425.21,324.77 L425.43,324.66 L425.66,324.54 L425.88,324.43 L426.11,324.32 L426.33,324.21 L426.56,324.10 L426.78,323.98 L427.00,323.87 L427.23,323.75 L427.45,323.64 L427.67,323.52 L427.90,323.40 L428.12,323.29 L428.34,323.17 L428.56,323.05 L428.78,322.93 L429.00,322.81 L429.22,322.69 L429.44,322.57 L429.66,322.45 L429.88,322.33 L430.09,322.20 L430.31,322.08 L430.53,321.95 L430.74,321.83 L430.96,321.70 L431.18,321.57 L431.39,321.44 L431.61,321.31 L431.82,321.18 L432.03,321.05 L432.25,320.92 L432.46,320.78 L432.67,320.65 L432.88,320.51 L433.09,320.38 L433.30,320.24 L433.51,320.10 L433.71,319.96 L433.92,319.82 L434.12,319.67 L434.33,319.53 L434.53,319.38 L434.73,319.23 L434.94,319.09 L435.14,318.93 L435.33,318.78 L435.53,318.63 L435.73,318.47 L435.92,318.31 L436.11,318.15 L436.30,317.99 L436.49,317.82 L436.68,317.66 L436.86,317.49 L437.04,317.32 L437.22,317.14 L437.40,316.96 L437.57,316.78 L437.74,316.59 L437.90,316.41 L438.06,316.21 L438.22,316.02 L438.36,315.81 L438.50,315.61 L438.63,315.39 L438.75,315.17 L438.86,314.94 L438.94,314.71 L439.08,314.91 L439.18,315.14 L439.30,315.36 L439.43,315.58 L439.57,315.78 L439.71,315.99 L439.87,316.19 L440.02,316.38 L440.19,316.57 L440.36,316.75 L440.53,316.94 L440.70,317.11 L440.88,317.29 L441.06,317.46 L441.25,317.63 L441.43,317.80 L441.62,317.97 L441.81,318.13 L442.00,318.29 L442.19,318.45 L442.39,318.60 L442.59,318.76 L442.79,318.91 L442.99,319.06 L443.19,319.21 L443.39,319.36 L443.59,319.51 L443.80,319.65 L444.00,319.80 L444.21,319.94 L444.41,320.08 L444.62,320.22 L444.83,320.36 L445.04,320.49 L445.25,320.63 L445.46,320.77 L445.67,320.90 L445.89,321.03 L446.10,321.16 L446.31,321.29 L446.53,321.42 L446.74,321.55 L446.96,321.68 L447.17,321.81 L447.39,321.93 L447.61,322.06 L447.82,322.18 L448.04,322.31 L448.26,322.43 L448.48,322.55 L448.70,322.67 L448.92,322.79 L449.14,322.91 L449.36,323.03 L449.58,323.15 L449.80,323.27 L450.02,323.39 L450.24,323.50 L450.47,323.62 L450.69,323.74 L450.91,323.85 L451.14,323.96 L451.36,324.08 L451.58,324.19 L451.81,324.30 L452.03,324.42 L452.25,324.53 L452.48,324.64 L452.71,324.75 L452.93,324.86 L453.16,324.97 L453.38,325.08 L453.61,325.18 L453.84,325.29 L454.06,325.40 L454.29,325.51 L454.52,325.61 L454.74,325.72 L454.97,325.82 L455.20,325.93 L455.43,326.03 L455.66,326.14 L455.88,326.24 L456.11,326.35 L456.34,326.45 L456.57,326.55 L456.80,326.65 L457.03,326.76 L457.26,326.86 L457.49,326.96 L457.72,327.06 L457.95,327.16 L458.18,327.26 L458.41,327.36 L458.64,327.46 L458.86,327.56 L459.10,327.66 L459.33,327.75 L459.56,327.85 L459.79,327.95 L460.02,328.05 L460.25,328.14 L460.49,328.24 L460.72,328.34 L460.95,328.43 L461.18,328.53 L461.41,328.62 L461.65,328.72 L461.88,328.81 L462.11,328.91 L462.34,329.00 L462.58,329.10 L462.81,329.19 L463.04,329.28 L463.28,329.38 L463.51,329.47 L463.74,329.56 L463.98,329.65 L464.21,329.75 L464.45,329.84 L464.68,329.93 L464.91,330.02 L465.15,330.11 L465.38,330.20 L465.62,330.29 L465.85,330.38 L466.09,330.47 L466.32,330.56 L466.55,330.65 L466.79,330.74 L467.02,330.83 L467.26,330.92 L467.49,331.01 L467.73,331.10 L467.97,331.19 L468.20,331.27 L468.44,331.36 L468.67,331.45 L468.91,331.54 L469.14,331.62 L469.38,331.71 L469.61,331.80 L469.85,331.88 L470.09,331.97 L470.32,332.06 L470.56,332.14 L470.80,332.23 L471.03,332.31 L471.27,332.40 L471.51,332.48 L471.74,332.57 L471.98,332.65 L472.22,332.74 L472.45,332.82 L472.69,332.90 L472.93,332.99 L473.16,333.07 L473.40,333.16 L473.64,333.24 L473.87,333.32 L474.11,333.40 L474.35,333.49 L474.59,333.57 L474.82,333.65 L475.06,333.73 L475.30,333.82 L475.54,333.90 L475.77,333.98 L476.01,334.06 L476.25,334.14 L476.49,334.22 L476.73,334.30 L476.97,334.39 L477.20,334.47 L477.44,334.55 L477.68,334.63 L477.92,334.71 L478.16,334.79 L478.39,334.87 L478.63,334.95 L478.87,335.03 L479.11,335.11 L479.35,335.19 L479.59,335.26 L479.83,335.34 L480.07,335.42 L480.31,335.50 L480.55,335.58 L480.79,335.66 L481.03,335.74 L481.26,335.81 L481.50,335.89 L481.74,335.97 L481.98,336.05 L482.22,336.12 L482.46,336.20 L482.70,336.28 L482.94,336.36 L483.18,336.43 L483.42,336.51 L483.66,336.59 L483.90,336.66 L484.14,336.74 L484.38,336.82 L484.62,336.89 L484.86,336.97 L485.10,337.04 L485.34,337.12 L485.58,337.19 L485.82,337.27 L486.06,337.35 L486.30,337.42 L486.54,337.50 L486.78,337.57 L487.02,337.65 L487.26,337.72 L487.50,337.79 L487.74,337.87 L487.98,337.94 L488.22,338.02 L488.46,338.09 L488.70,338.16 L488.94,338.24 L489.18,338.31 L489.43,338.39 L489.67,338.46 L489.91,338.53 L490.15,338.61 L490.39,338.68 L490.63,338.75 L490.87,338.83 L491.11,338.90 L491.35,338.97 L491.59,339.04 L491.84,339.12 L492.08,339.19 L492.32,339.26 L492.56,339.33 L492.80,339.40 L493.04,339.48 L493.28,339.55 L493.52,339.62 L493.77,339.69 L494.01,339.76 L494.25,339.83 L494.49,339.90 L494.73,339.98 L494.97,340.05 L495.22,340.12 L495.46,340.19 L495.70,340.26 L495.94,340.33 L496.19,340.40 L496.43,340.47 L496.67,340.54 L496.91,340.61 L497.15,340.68 L497.39,340.75 L497.64,340.82 L497.88,340.89 L498.12,340.96 L498.36,341.03 L498.60,341.10 L498.85,341.17 L499.09,341.24 L499.33,341.31 L499.58,341.38 L499.82,341.45 L500.06,341.51 L500.30,341.58 L500.54,341.65 L500.79,341.72 L501.03,341.79 L501.27,341.86 L501.52,341.93 L501.76,341.99 L502.00,342.06 L502.24,342.13 L502.49,342.20 L502.73,342.27 L502.97,342.33 L503.21,342.40 L503.46,342.47 L503.70,342.54 L503.94,342.60 L504.19,342.67 L504.43,342.74 L504.68,342.81 L504.92,342.87 L505.16,342.94 L505.40,343.01 L505.64,343.07 L505.89,343.14 L506.13,343.21 L506.38,343.27 L506.62,343.34 L506.86,343.41 L507.11,343.47 L507.35,343.54 L507.59,343.60 L507.84,343.67 L508.08,343.74 L508.32,343.80 L508.57,343.87 L508.81,343.93 L509.05,344.00 L509.30,344.06 L509.54,344.13 L509.78,344.19 L510.03,344.26 L510.27,344.33 L510.52,344.39 L510.76,344.46 L511.00,344.52 L511.25,344.58 L511.49,344.65 L511.73,344.71 L511.97,344.78 L512.22,344.84 L512.46,344.91 L512.71,344.97 L512.95,345.04 L513.20,345.10 L513.44,345.17 L513.69,345.23 L513.93,345.29 L514.17,345.36 L514.42,345.42 L514.66,345.48 L514.91,345.55 L515.15,345.61 L515.40,345.68 L515.64,345.74 L515.89,345.80 L516.13,345.87 L516.37,345.93 L516.62,345.99 L516.86,346.05 L517.11,346.12 L517.35,346.18 L517.60,346.24 L517.84,346.31 L518.09,346.37 L518.33,346.43 L518.57,346.49 L518.82,346.56 L519.06,346.62 L519.30,346.68 L519.55,346.74 L519.79,346.81 L520.04,346.87 L520.29,346.93 L520.53,346.99 L520.78,347.06 L521.02,347.12 L521.26,347.18 L521.51,347.24 L521.75,347.30 L521.99,347.36 L522.24,347.42 L522.48,347.48 L522.73,347.55 L522.98,347.61 L523.22,347.67 L523.47,347.73 L523.72,347.79 L523.96,347.85 L524.20,347.91 L524.44,347.97 L524.69,348.03 L524.93,348.09 L525.18,348.16 L525.42,348.22 L525.67,348.28 L525.91,348.34 L526.16,348.40 L526.41,348.46 L526.65,348.52 L526.90,348.58 L527.15,348.64 L527.39,348.70 L527.63,348.76 L527.88,348.82 L528.12,348.88 L528.37,348.94 L528.61,349.00 L528.86,349.06 L529.10,349.12 L529.35,349.18 L529.41,349.19" fill="none" stroke="#0808d0" stroke-width="2.1" stroke-linejoin="round" stroke-linecap="round"/>
<circle cx="438.98" cy="314.50" r="1.75" fill="#d4121f"/>
<rect x="339.50" y="207.44" width="198.95" height="148.5" fill="none" stroke="#505050" stroke-width="1.1"/>
<line x1="348.54" y1="355.94" x2="348.54" y2="358.34" stroke="#3a3a3a" stroke-width="0.8"/>
<text transform="translate(336.81,366.04) scale(1.075,1)" font-size="8.6">−</text><text transform="translate(343.17,366.04) scale(0.956,1)" font-size="8.6">0</text><text transform="translate(348.00,366.04) scale(0.981,1)" font-size="8.6">.</text><text transform="translate(350.67,366.04) scale(0.913,1)" font-size="8.6">1</text><text transform="translate(355.57,366.04) scale(0.956,1)" font-size="8.6">0</text>
<line x1="393.76" y1="355.94" x2="393.76" y2="358.34" stroke="#3a3a3a" stroke-width="0.8"/>
<text transform="translate(382.11,366.04) scale(1.075,1)" font-size="8.6">−</text><text transform="translate(388.46,366.04) scale(0.956,1)" font-size="8.6">0</text><text transform="translate(393.30,366.04) scale(0.981,1)" font-size="8.6">.</text><text transform="translate(395.91,366.04) scale(0.956,1)" font-size="8.6">0</text><text transform="translate(400.97,366.04) scale(0.902,1)" font-size="8.6">5</text>
<line x1="438.98" y1="355.94" x2="438.98" y2="358.34" stroke="#3a3a3a" stroke-width="0.8"/>
<text transform="translate(430.49,366.04) scale(0.956,1)" font-size="8.6">0</text><text transform="translate(435.32,366.04) scale(0.981,1)" font-size="8.6">.</text><text transform="translate(437.93,366.04) scale(0.956,1)" font-size="8.6">0</text><text transform="translate(442.89,366.04) scale(0.956,1)" font-size="8.6">0</text>
<line x1="484.19" y1="355.94" x2="484.19" y2="358.34" stroke="#3a3a3a" stroke-width="0.8"/>
<text transform="translate(475.78,366.04) scale(0.956,1)" font-size="8.6">0</text><text transform="translate(480.62,366.04) scale(0.981,1)" font-size="8.6">.</text><text transform="translate(483.23,366.04) scale(0.956,1)" font-size="8.6">0</text><text transform="translate(488.29,366.04) scale(0.902,1)" font-size="8.6">5</text>
<line x1="529.41" y1="355.94" x2="529.41" y2="358.34" stroke="#3a3a3a" stroke-width="0.8"/>
<text transform="translate(520.92,366.04) scale(0.956,1)" font-size="8.6">0</text><text transform="translate(525.75,366.04) scale(0.981,1)" font-size="8.6">.</text><text transform="translate(528.43,366.04) scale(0.913,1)" font-size="8.6">1</text><text transform="translate(533.32,366.04) scale(0.956,1)" font-size="8.6">0</text>
<line x1="337.10" y1="339.58" x2="339.50" y2="339.58" stroke="#3a3a3a" stroke-width="0.8"/>
<text transform="translate(323.52,342.78) scale(0.956,1)" font-size="8.6">0</text><text transform="translate(328.35,342.78) scale(0.981,1)" font-size="8.6">.</text><text transform="translate(331.06,342.78) scale(0.902,1)" font-size="8.6">5</text>
<line x1="337.10" y1="314.50" x2="339.50" y2="314.50" stroke="#3a3a3a" stroke-width="0.8"/>
<text transform="translate(323.42,317.70) scale(0.913,1)" font-size="8.6">1</text><text transform="translate(328.19,317.70) scale(0.981,1)" font-size="8.6">.</text><text transform="translate(330.80,317.70) scale(0.956,1)" font-size="8.6">0</text>
<line x1="337.10" y1="289.42" x2="339.50" y2="289.42" stroke="#3a3a3a" stroke-width="0.8"/>
<text transform="translate(323.59,292.62) scale(0.913,1)" font-size="8.6">1</text><text transform="translate(328.35,292.62) scale(0.981,1)" font-size="8.6">.</text><text transform="translate(331.06,292.62) scale(0.902,1)" font-size="8.6">5</text>
<line x1="337.10" y1="264.35" x2="339.50" y2="264.35" stroke="#3a3a3a" stroke-width="0.8"/>
<text transform="translate(323.34,267.55) scale(0.922,1)" font-size="8.6">2</text><text transform="translate(328.19,267.55) scale(0.981,1)" font-size="8.6">.</text><text transform="translate(330.80,267.55) scale(0.956,1)" font-size="8.6">0</text>
<line x1="337.10" y1="239.27" x2="339.50" y2="239.27" stroke="#3a3a3a" stroke-width="0.8"/>
<text transform="translate(323.50,242.47) scale(0.922,1)" font-size="8.6">2</text><text transform="translate(328.35,242.47) scale(0.981,1)" font-size="8.6">.</text><text transform="translate(331.06,242.47) scale(0.902,1)" font-size="8.6">5</text>
<line x1="337.10" y1="214.19" x2="339.50" y2="214.19" stroke="#3a3a3a" stroke-width="0.8"/>
<text transform="translate(323.46,217.39) scale(0.918,1)" font-size="8.6">3</text><text transform="translate(328.19,217.39) scale(0.981,1)" font-size="8.6">.</text><text transform="translate(330.80,217.39) scale(0.956,1)" font-size="8.6">0</text>
<text x="438.98" y="203.84" font-size="8.9" text-anchor="middle" style="stroke-width:0.22px" textLength="67.9" lengthAdjust="spacingAndGlyphs"><tspan font-style="italic">p</tspan> = 2, <tspan font-style="italic">g</tspan>/<tspan font-style="italic">B</tspan> = 2.0</text>
<text style="stroke-width:0.22px" font-style="italic"><tspan x="430.48" y="374.74" font-size="8.5">k</tspan><tspan x="435.43" y="376.54" font-size="6.5" font-style="normal">2</tspan><tspan x="438.68" y="375.44" font-size="9.0" font-style="normal">/</tspan><tspan x="442.88" y="374.74" font-size="7.6">π</tspan></text>
<text transform="translate(546.75,282.09) rotate(-90)" x="0" y="0" font-size="9.0" text-anchor="middle" style="stroke-width:0.4px" textLength="13.4" lengthAdjust="spacingAndGlyphs" font-style="italic">E/B</text>
<text x="319.69" y="206.09" font-size="6.5" textLength="9.96" lengthAdjust="spacingAndGlyphs" style="stroke-width:0.2px">(d)</text>
</svg></body></html>
